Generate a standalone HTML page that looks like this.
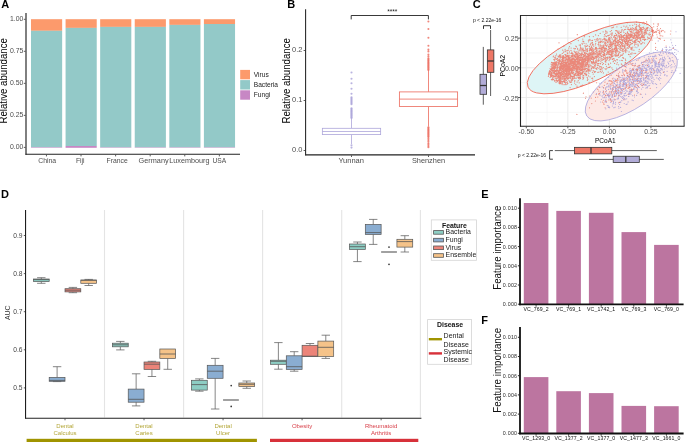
<!DOCTYPE html>
<html><head><meta charset="utf-8"><style>
html,body{margin:0;padding:0;background:#fff;}
body{width:685px;height:442px;overflow:hidden;}
svg{display:block;font-family:"Liberation Sans", sans-serif;will-change:transform;}
</style></head><body>
<svg width="685" height="442" viewBox="0 0 685 442">
<text x="1.3" y="8.2" font-size="11" fill="#000" text-anchor="start" font-weight="bold">A</text>
<text x="287.3" y="8.2" font-size="11" fill="#000" text-anchor="start" font-weight="bold">B</text>
<text x="472.8" y="8.2" font-size="11" fill="#000" text-anchor="start" font-weight="bold">C</text>
<text x="1.0" y="198.2" font-size="11" fill="#000" text-anchor="start" font-weight="bold">D</text>
<text x="481.3" y="197.8" font-size="11" fill="#000" text-anchor="start" font-weight="bold">E</text>
<text x="481.3" y="323.9" font-size="11" fill="#000" text-anchor="start" font-weight="bold">F</text>
<rect x="31.00" y="19.20" width="31.15" height="11.60" fill="#fc9a6c"/>
<rect x="31.00" y="30.80" width="31.15" height="116.50" fill="#93c9c8"/>
<rect x="31.00" y="147.30" width="31.15" height="0.50" fill="#c787c4"/>
<rect x="65.58" y="19.20" width="31.15" height="8.70" fill="#fc9a6c"/>
<rect x="65.58" y="27.90" width="31.15" height="118.10" fill="#93c9c8"/>
<rect x="65.58" y="146.00" width="31.15" height="1.80" fill="#c787c4"/>
<rect x="100.16" y="19.20" width="31.15" height="7.70" fill="#fc9a6c"/>
<rect x="100.16" y="26.90" width="31.15" height="120.50" fill="#93c9c8"/>
<rect x="100.16" y="147.40" width="31.15" height="0.40" fill="#c787c4"/>
<rect x="134.74" y="19.20" width="31.15" height="7.70" fill="#fc9a6c"/>
<rect x="134.74" y="26.90" width="31.15" height="120.50" fill="#93c9c8"/>
<rect x="134.74" y="147.40" width="31.15" height="0.40" fill="#c787c4"/>
<rect x="169.32" y="19.20" width="31.15" height="5.70" fill="#fc9a6c"/>
<rect x="169.32" y="24.90" width="31.15" height="122.50" fill="#93c9c8"/>
<rect x="169.32" y="147.40" width="31.15" height="0.40" fill="#c787c4"/>
<rect x="203.90" y="19.20" width="31.15" height="4.80" fill="#fc9a6c"/>
<rect x="203.90" y="24.00" width="31.15" height="123.40" fill="#93c9c8"/>
<rect x="203.90" y="147.40" width="31.15" height="0.40" fill="#c787c4"/>
<line x1="26" y1="13" x2="26" y2="154.8" stroke="#222" stroke-width="1.15"/>
<line x1="25.45" y1="154.25" x2="240" y2="154.25" stroke="#222" stroke-width="1.15"/>
<line x1="23.8" y1="19.30000000000001" x2="25.5" y2="19.30000000000001" stroke="#333" stroke-width="0.8"/>
<text x="9.90" y="20.90" font-size="6.9" fill="#4d4d4d" textLength="13.41" lengthAdjust="spacingAndGlyphs">1.00</text>
<line x1="23.8" y1="51.32500000000002" x2="25.5" y2="51.32500000000002" stroke="#333" stroke-width="0.8"/>
<text x="9.90" y="52.93" font-size="6.9" fill="#4d4d4d" textLength="13.41" lengthAdjust="spacingAndGlyphs">0.75</text>
<line x1="23.8" y1="83.35000000000001" x2="25.5" y2="83.35000000000001" stroke="#333" stroke-width="0.8"/>
<text x="9.90" y="84.95" font-size="6.9" fill="#4d4d4d" textLength="13.41" lengthAdjust="spacingAndGlyphs">0.50</text>
<line x1="23.8" y1="115.375" x2="25.5" y2="115.375" stroke="#333" stroke-width="0.8"/>
<text x="9.90" y="116.97" font-size="6.9" fill="#4d4d4d" textLength="13.41" lengthAdjust="spacingAndGlyphs">0.25</text>
<line x1="23.8" y1="147.4" x2="25.5" y2="147.4" stroke="#333" stroke-width="0.8"/>
<text x="9.90" y="149.00" font-size="6.9" fill="#4d4d4d" textLength="13.41" lengthAdjust="spacingAndGlyphs">0.00</text>
<line x1="46.45" y1="154.8" x2="46.45" y2="156.4" stroke="#333" stroke-width="0.8"/>
<text x="38.20" y="162.50" font-size="7.0" fill="#4d4d4d" textLength="17.99" lengthAdjust="spacingAndGlyphs">China</text>
<line x1="81.03" y1="154.8" x2="81.03" y2="156.4" stroke="#333" stroke-width="0.8"/>
<text x="75.90" y="162.50" font-size="7.0" fill="#4d4d4d" textLength="8.72" lengthAdjust="spacingAndGlyphs">Fiji</text>
<line x1="115.61" y1="154.8" x2="115.61" y2="156.4" stroke="#333" stroke-width="0.8"/>
<text x="106.50" y="162.50" font-size="7.0" fill="#4d4d4d" textLength="21.22" lengthAdjust="spacingAndGlyphs">France</text>
<line x1="150.19" y1="154.8" x2="150.19" y2="156.4" stroke="#333" stroke-width="0.8"/>
<text x="138.60" y="162.50" font-size="7.0" fill="#4d4d4d" textLength="30.02" lengthAdjust="spacingAndGlyphs">Germany</text>
<line x1="184.76999999999998" y1="154.8" x2="184.76999999999998" y2="156.4" stroke="#333" stroke-width="0.8"/>
<text x="169.30" y="162.50" font-size="7.0" fill="#4d4d4d" textLength="40.19" lengthAdjust="spacingAndGlyphs">Luxembourg</text>
<line x1="219.34999999999997" y1="154.8" x2="219.34999999999997" y2="156.4" stroke="#333" stroke-width="0.8"/>
<text x="212.40" y="162.50" font-size="7.0" fill="#4d4d4d" textLength="13.77" lengthAdjust="spacingAndGlyphs">USA</text>
<text x="7.00" y="123.60" font-size="10.0" fill="#000" textLength="85.50" lengthAdjust="spacingAndGlyphs" transform="rotate(-90 7.00 123.60)">Relative abundance</text>
<rect x="240.20" y="69.90" width="9.80" height="9.40" fill="#fc9a6c"/>
<text x="253.8" y="76.7" font-size="6.6" fill="#222" text-anchor="start">Virus</text>
<rect x="240.20" y="80.10" width="9.80" height="9.40" fill="#93c9c8"/>
<text x="253.8" y="86.9" font-size="6.6" fill="#222" text-anchor="start">Bacteria</text>
<rect x="240.20" y="90.30" width="9.80" height="9.40" fill="#c787c4"/>
<text x="253.8" y="97.10000000000001" font-size="6.6" fill="#222" text-anchor="start">Fungi</text>
<line x1="305.6" y1="9.2" x2="305.6" y2="155.4" stroke="#222" stroke-width="1.05"/>
<line x1="305.45" y1="154.9" x2="475" y2="154.9" stroke="#222" stroke-width="1.15"/>
<line x1="303.6" y1="50.5" x2="305.2" y2="50.5" stroke="#333" stroke-width="0.8"/>
<text x="292.00" y="51.70" font-size="7.8" fill="#4d4d4d" textLength="10.40" lengthAdjust="spacingAndGlyphs">0.2</text>
<line x1="303.6" y1="100.5" x2="305.2" y2="100.5" stroke="#333" stroke-width="0.8"/>
<text x="292.00" y="101.70" font-size="7.8" fill="#4d4d4d" textLength="10.40" lengthAdjust="spacingAndGlyphs">0.1</text>
<line x1="303.6" y1="150.5" x2="305.2" y2="150.5" stroke="#333" stroke-width="0.8"/>
<text x="292.00" y="151.70" font-size="7.8" fill="#4d4d4d" textLength="10.40" lengthAdjust="spacingAndGlyphs">0.0</text>
<text x="290.00" y="123.60" font-size="10.0" fill="#000" textLength="85.50" lengthAdjust="spacingAndGlyphs" transform="rotate(-90 290.00 123.60)">Relative abundance</text>
<line x1="351.5" y1="155.4" x2="351.5" y2="157.0" stroke="#333" stroke-width="0.8"/>
<text x="338.40" y="162.90" font-size="7.5" fill="#4d4d4d" textLength="25.58" lengthAdjust="spacingAndGlyphs">Yunnan</text>
<line x1="428.5" y1="155.4" x2="428.5" y2="157.0" stroke="#333" stroke-width="0.8"/>
<text x="411.90" y="162.90" font-size="7.5" fill="#4d4d4d" textLength="33.19" lengthAdjust="spacingAndGlyphs">Shenzhen</text>
<path d="M351.2 19.4V15.5H428.4V19.4" fill="none" stroke="#222" stroke-width="0.9"/>
<text x="392.3" y="13.6" font-size="6.6" fill="#222" text-anchor="middle">****</text>
<line x1="351.5" y1="118.4" x2="351.5" y2="128.3" stroke="#ada6da" stroke-width="0.8"/>
<line x1="351.5" y1="134.6" x2="351.5" y2="144.0" stroke="#ada6da" stroke-width="0.8"/>
<rect x="322.35" y="128.30" width="58.30" height="6.30" fill="white" stroke="#ada6da" stroke-width="0.8"/>
<line x1="322.35" y1="131.5" x2="380.65" y2="131.5" stroke="#ada6da" stroke-width="0.8"/>
<line x1="428.5" y1="70.2" x2="428.5" y2="91.9" stroke="#ed7265" stroke-width="0.85"/>
<line x1="428.5" y1="106.5" x2="428.5" y2="126.6" stroke="#ed7265" stroke-width="0.85"/>
<rect x="399.40" y="91.90" width="58.20" height="14.60" fill="white" stroke="#ed7265" stroke-width="0.85"/>
<line x1="399.4" y1="99.1" x2="457.6" y2="99.1" stroke="#ed7265" stroke-width="0.85"/>
<circle cx="351.5" cy="72.50" r="1.05" fill="#ada6da" fill-opacity="0.85"/>
<circle cx="351.5" cy="78.80" r="1.05" fill="#ada6da" fill-opacity="0.85"/>
<circle cx="351.5" cy="83.30" r="1.05" fill="#ada6da" fill-opacity="0.85"/>
<circle cx="351.5" cy="88.80" r="1.05" fill="#ada6da" fill-opacity="0.85"/>
<circle cx="351.5" cy="93.80" r="1.05" fill="#ada6da" fill-opacity="0.85"/>
<circle cx="351.5" cy="97.20" r="1.05" fill="#ada6da" fill-opacity="0.85"/>
<circle cx="351.5" cy="98.20" r="1.05" fill="#ada6da" fill-opacity="0.85"/>
<circle cx="351.5" cy="99.20" r="1.05" fill="#ada6da" fill-opacity="0.85"/>
<circle cx="351.5" cy="100.20" r="1.05" fill="#ada6da" fill-opacity="0.85"/>
<circle cx="351.5" cy="101.20" r="1.05" fill="#ada6da" fill-opacity="0.85"/>
<circle cx="351.5" cy="102.20" r="1.05" fill="#ada6da" fill-opacity="0.85"/>
<circle cx="351.5" cy="103.20" r="1.05" fill="#ada6da" fill-opacity="0.85"/>
<circle cx="351.5" cy="104.20" r="1.05" fill="#ada6da" fill-opacity="0.85"/>
<circle cx="351.5" cy="108.20" r="1.05" fill="#ada6da" fill-opacity="0.85"/>
<circle cx="351.5" cy="109.10" r="1.05" fill="#ada6da" fill-opacity="0.85"/>
<circle cx="351.5" cy="110.00" r="1.05" fill="#ada6da" fill-opacity="0.85"/>
<circle cx="351.5" cy="110.90" r="1.05" fill="#ada6da" fill-opacity="0.85"/>
<circle cx="351.5" cy="111.80" r="1.05" fill="#ada6da" fill-opacity="0.85"/>
<circle cx="351.5" cy="112.70" r="1.05" fill="#ada6da" fill-opacity="0.85"/>
<circle cx="351.5" cy="113.60" r="1.05" fill="#ada6da" fill-opacity="0.85"/>
<circle cx="351.5" cy="114.50" r="1.05" fill="#ada6da" fill-opacity="0.85"/>
<circle cx="351.5" cy="115.40" r="1.05" fill="#ada6da" fill-opacity="0.85"/>
<circle cx="351.5" cy="116.30" r="1.05" fill="#ada6da" fill-opacity="0.85"/>
<circle cx="351.5" cy="117.20" r="1.05" fill="#ada6da" fill-opacity="0.85"/>
<circle cx="351.5" cy="118.10" r="1.05" fill="#ada6da" fill-opacity="0.85"/>
<circle cx="351.5" cy="145.20" r="1.05" fill="#ada6da" fill-opacity="0.85"/>
<circle cx="351.5" cy="147.60" r="1.05" fill="#ada6da" fill-opacity="0.85"/>
<circle cx="428.4" cy="21.50" r="1.05" fill="#ed7265" fill-opacity="0.85"/>
<circle cx="428.4" cy="29.00" r="1.05" fill="#ed7265" fill-opacity="0.85"/>
<circle cx="428.4" cy="37.70" r="1.05" fill="#ed7265" fill-opacity="0.85"/>
<circle cx="428.4" cy="45.80" r="1.05" fill="#ed7265" fill-opacity="0.85"/>
<circle cx="428.4" cy="49.60" r="1.05" fill="#ed7265" fill-opacity="0.85"/>
<circle cx="428.4" cy="51.40" r="1.05" fill="#ed7265" fill-opacity="0.85"/>
<circle cx="428.4" cy="54.60" r="1.05" fill="#ed7265" fill-opacity="0.85"/>
<circle cx="428.4" cy="56.40" r="1.05" fill="#ed7265" fill-opacity="0.85"/>
<circle cx="428.4" cy="58.40" r="1.05" fill="#ed7265" fill-opacity="0.85"/>
<circle cx="428.4" cy="59.30" r="1.05" fill="#ed7265" fill-opacity="0.85"/>
<circle cx="428.4" cy="60.20" r="1.05" fill="#ed7265" fill-opacity="0.85"/>
<circle cx="428.4" cy="61.10" r="1.05" fill="#ed7265" fill-opacity="0.85"/>
<circle cx="428.4" cy="62.00" r="1.05" fill="#ed7265" fill-opacity="0.85"/>
<circle cx="428.4" cy="62.90" r="1.05" fill="#ed7265" fill-opacity="0.85"/>
<circle cx="428.4" cy="63.80" r="1.05" fill="#ed7265" fill-opacity="0.85"/>
<circle cx="428.4" cy="64.70" r="1.05" fill="#ed7265" fill-opacity="0.85"/>
<circle cx="428.4" cy="65.60" r="1.05" fill="#ed7265" fill-opacity="0.85"/>
<circle cx="428.4" cy="66.50" r="1.05" fill="#ed7265" fill-opacity="0.85"/>
<circle cx="428.4" cy="67.40" r="1.05" fill="#ed7265" fill-opacity="0.85"/>
<circle cx="428.4" cy="68.30" r="1.05" fill="#ed7265" fill-opacity="0.85"/>
<circle cx="428.4" cy="69.20" r="1.05" fill="#ed7265" fill-opacity="0.85"/>
<circle cx="428.4" cy="70.10" r="1.05" fill="#ed7265" fill-opacity="0.85"/>
<circle cx="428.4" cy="127.20" r="1.05" fill="#ed7265" fill-opacity="0.85"/>
<circle cx="428.4" cy="128.10" r="1.05" fill="#ed7265" fill-opacity="0.85"/>
<circle cx="428.4" cy="129.00" r="1.05" fill="#ed7265" fill-opacity="0.85"/>
<circle cx="428.4" cy="129.90" r="1.05" fill="#ed7265" fill-opacity="0.85"/>
<circle cx="428.4" cy="130.80" r="1.05" fill="#ed7265" fill-opacity="0.85"/>
<circle cx="428.4" cy="131.70" r="1.05" fill="#ed7265" fill-opacity="0.85"/>
<circle cx="428.4" cy="132.60" r="1.05" fill="#ed7265" fill-opacity="0.85"/>
<circle cx="428.4" cy="133.50" r="1.05" fill="#ed7265" fill-opacity="0.85"/>
<circle cx="428.4" cy="134.40" r="1.05" fill="#ed7265" fill-opacity="0.85"/>
<circle cx="428.4" cy="135.30" r="1.05" fill="#ed7265" fill-opacity="0.85"/>
<circle cx="428.4" cy="136.20" r="1.05" fill="#ed7265" fill-opacity="0.85"/>
<circle cx="428.4" cy="137.10" r="1.05" fill="#ed7265" fill-opacity="0.85"/>
<circle cx="428.4" cy="138.60" r="1.05" fill="#ed7265" fill-opacity="0.85"/>
<circle cx="428.4" cy="140.10" r="1.05" fill="#ed7265" fill-opacity="0.85"/>
<circle cx="428.4" cy="141.60" r="1.05" fill="#ed7265" fill-opacity="0.85"/>
<circle cx="428.4" cy="143.20" r="1.05" fill="#ed7265" fill-opacity="0.85"/>
<circle cx="428.4" cy="144.60" r="1.05" fill="#ed7265" fill-opacity="0.85"/>
<circle cx="428.4" cy="146.00" r="1.05" fill="#ed7265" fill-opacity="0.85"/>
<circle cx="428.4" cy="147.20" r="1.05" fill="#ed7265" fill-opacity="0.85"/>
<line x1="547.0749999999999" y1="15.5" x2="547.0749999999999" y2="126" stroke="#f2f2f2" stroke-width="0.55"/>
<line x1="588.625" y1="15.5" x2="588.625" y2="126" stroke="#f2f2f2" stroke-width="0.55"/>
<line x1="630.175" y1="15.5" x2="630.175" y2="126" stroke="#f2f2f2" stroke-width="0.55"/>
<line x1="671.725" y1="15.5" x2="671.725" y2="126" stroke="#f2f2f2" stroke-width="0.55"/>
<line x1="526.3" y1="15.5" x2="526.3" y2="126" stroke="#e8e8e8" stroke-width="0.9"/>
<line x1="567.85" y1="15.5" x2="567.85" y2="126" stroke="#e8e8e8" stroke-width="0.9"/>
<line x1="609.4" y1="15.5" x2="609.4" y2="126" stroke="#e8e8e8" stroke-width="0.9"/>
<line x1="650.9499999999999" y1="15.5" x2="650.9499999999999" y2="126" stroke="#e8e8e8" stroke-width="0.9"/>
<line x1="520.5" y1="23.25" x2="684" y2="23.25" stroke="#f2f2f2" stroke-width="0.55"/>
<line x1="520.5" y1="52.949999999999996" x2="684" y2="52.949999999999996" stroke="#f2f2f2" stroke-width="0.55"/>
<line x1="520.5" y1="82.64999999999999" x2="684" y2="82.64999999999999" stroke="#f2f2f2" stroke-width="0.55"/>
<line x1="520.5" y1="112.35" x2="684" y2="112.35" stroke="#f2f2f2" stroke-width="0.55"/>
<line x1="520.5" y1="38.099999999999994" x2="684" y2="38.099999999999994" stroke="#e8e8e8" stroke-width="0.9"/>
<line x1="520.5" y1="67.8" x2="684" y2="67.8" stroke="#e8e8e8" stroke-width="0.9"/>
<line x1="520.5" y1="97.5" x2="684" y2="97.5" stroke="#e8e8e8" stroke-width="0.9"/>
<ellipse cx="590.1" cy="57.9" rx="68.6" ry="23.1" transform="rotate(-25.2 590.1 57.9)" fill="#def5f6" stroke="none" stroke-width="0"/>
<ellipse cx="631.3" cy="86.3" rx="53.5" ry="21.5" transform="rotate(-33.7 631.3 86.3)" fill="#fde9e6" stroke="none" stroke-width="0"/>
<path d="M656.6 87.6h0M666.3 65.9h0M657.9 64.1h0M615.8 91.0h0M620.4 82.2h0M660.0 55.3h0M602.8 92.7h0M659.7 59.8h0M655.8 62.2h0M636.6 84.8h0M623.7 83.8h0M618.4 89.1h0M610.8 85.5h0M641.6 89.1h0M638.9 81.3h0M648.3 85.8h0M666.4 65.4h0M660.4 75.2h0M641.8 73.0h0M668.5 63.3h0M621.4 111.5h0M608.9 86.7h0M651.7 78.4h0M615.1 107.2h0M606.4 102.3h0M640.7 82.2h0M642.1 85.6h0M652.1 62.6h0M646.4 75.5h0M636.1 71.4h0M636.2 73.0h0M623.7 81.9h0M608.4 96.2h0M618.5 91.9h0M652.1 72.1h0M614.4 81.2h0M634.5 97.0h0M609.1 106.9h0M664.2 66.4h0M619.5 86.9h0M620.9 88.3h0M663.5 65.3h0M639.8 80.0h0M657.2 50.4h0M648.8 76.8h0M669.0 82.1h0M599.8 87.2h0M642.9 83.0h0M638.2 80.7h0M663.1 59.9h0M636.8 90.3h0M633.5 70.4h0M605.8 100.5h0M636.5 91.3h0M622.4 86.3h0M607.4 94.4h0M661.3 63.1h0M628.9 79.9h0M675.7 65.8h0M637.5 70.1h0M650.6 76.8h0M640.0 65.5h0M654.6 72.3h0M610.7 94.9h0M619.8 67.4h0M620.6 89.2h0M623.9 77.8h0M611.1 91.7h0M674.2 66.8h0M610.8 86.1h0M644.0 64.5h0M628.5 96.4h0M664.6 60.9h0M651.4 82.0h0M612.8 97.2h0M659.7 55.5h0M672.9 53.8h0M674.6 63.8h0M645.3 80.9h0M614.6 93.3h0M622.2 88.6h0M663.8 59.5h0M634.7 74.8h0M624.2 103.5h0M663.3 60.8h0M638.8 67.3h0M634.0 76.2h0M626.9 91.3h0M635.8 84.6h0M616.9 90.5h0M603.7 94.7h0M662.1 61.8h0M630.1 68.4h0M633.6 69.3h0M630.2 89.8h0M648.3 66.6h0M606.3 102.0h0M630.0 93.5h0M612.7 100.1h0M612.4 94.9h0M673.2 72.6h0M648.6 76.3h0M630.0 79.9h0M643.6 80.2h0M657.4 68.2h0M619.9 82.3h0M641.7 75.8h0M656.5 63.8h0M622.8 70.8h0M637.0 76.8h0M655.3 63.6h0M668.5 53.5h0M606.9 84.2h0M662.3 58.3h0M608.6 96.9h0M655.3 67.0h0M654.7 56.7h0M614.1 99.0h0M633.1 70.4h0M662.1 59.6h0M612.4 106.0h0M644.7 67.2h0M647.1 67.2h0M644.1 82.8h0M649.3 66.8h0M619.4 87.5h0M620.4 91.3h0M631.0 91.4h0M601.6 82.8h0M624.8 79.3h0M659.4 54.6h0M636.2 69.5h0M621.0 81.5h0M617.5 84.0h0M659.7 65.8h0M633.7 72.8h0M669.4 57.8h0M643.1 77.7h0M641.9 68.7h0M663.2 62.0h0M653.1 81.7h0M640.4 78.8h0M625.5 80.4h0M659.5 62.8h0M627.7 76.6h0M658.7 66.2h0M613.4 101.4h0M624.0 79.9h0M638.3 75.6h0M670.2 65.7h0M617.7 86.9h0M657.2 66.4h0M642.4 65.9h0M645.6 65.5h0M637.6 73.5h0M675.8 70.7h0M630.5 79.2h0M634.8 75.3h0M619.8 85.0h0M609.4 95.3h0M618.5 96.1h0M669.3 58.3h0M666.7 75.8h0M612.3 96.6h0M648.2 83.0h0M636.9 80.7h0M643.9 78.8h0M641.3 63.3h0M620.2 88.4h0M665.3 58.9h0M641.3 73.4h0M636.6 60.5h0M648.2 78.2h0M616.6 88.6h0M609.1 93.2h0M626.4 83.2h0M652.4 66.1h0M661.9 65.1h0M647.7 60.4h0M608.5 89.4h0M670.0 58.7h0M654.8 67.7h0M660.2 59.7h0M634.4 75.2h0M665.5 52.2h0M600.7 102.0h0M608.7 107.1h0M599.8 94.2h0M628.9 96.5h0M625.8 92.8h0M619.5 86.2h0M639.0 83.5h0M603.7 88.1h0M635.0 65.0h0M607.9 86.8h0M648.6 67.1h0M601.4 99.3h0M615.6 88.2h0M664.4 60.8h0M626.1 67.6h0M656.8 69.2h0M642.8 62.5h0M642.5 69.1h0M620.5 85.8h0M636.5 68.9h0M596.5 93.7h0M650.0 61.2h0M663.6 60.5h0M658.1 69.2h0M611.3 100.2h0M620.4 81.0h0M615.4 86.0h0M610.5 88.2h0M646.4 75.8h0M649.4 52.9h0M629.9 93.4h0M660.6 58.5h0M653.2 60.9h0M618.2 93.7h0M659.6 71.9h0M664.3 63.0h0M622.7 96.7h0M637.3 79.2h0M650.1 79.9h0M647.9 81.5h0M610.9 94.8h0M648.4 82.8h0M651.5 70.0h0M658.5 64.7h0M648.9 62.6h0M618.8 88.0h0M653.3 73.9h0M655.3 55.1h0M662.5 66.8h0M616.5 94.9h0M605.1 101.9h0M639.9 57.8h0M615.5 91.7h0M643.4 79.5h0M666.0 52.5h0M637.9 78.4h0M608.2 77.5h0M635.1 85.2h0M641.7 69.6h0M617.0 99.0h0M618.1 75.4h0M614.2 99.4h0M646.4 70.1h0M658.2 71.0h0M622.1 80.5h0M624.5 81.4h0M641.1 94.4h0M610.3 89.1h0M616.3 86.1h0M625.2 83.8h0M629.5 74.7h0M608.4 107.4h0M658.4 78.5h0M641.9 69.1h0M619.0 75.8h0M613.7 103.7h0M655.3 75.4h0M618.2 97.7h0M615.6 102.3h0M605.6 91.9h0M606.3 97.3h0M662.7 49.5h0M617.1 79.6h0M632.0 89.9h0M654.2 61.1h0M656.6 84.4h0M614.8 93.7h0M629.6 77.8h0M673.1 60.9h0M638.3 92.6h0M650.8 73.2h0M605.7 88.9h0M654.1 70.0h0M664.2 71.8h0M654.4 62.5h0M639.4 70.2h0M631.5 90.5h0M609.2 98.0h0M634.1 70.9h0M656.5 62.1h0M614.9 86.7h0M625.5 88.4h0M636.0 79.9h0M660.3 72.4h0M672.3 60.7h0M609.1 83.8h0M618.8 93.9h0M660.3 70.3h0M653.9 70.8h0M652.1 76.9h0M666.6 53.9h0M663.2 52.8h0M665.2 67.3h0M649.2 61.2h0M622.7 69.7h0M649.1 78.9h0M614.0 87.6h0M652.1 65.7h0M644.3 61.6h0M646.0 61.1h0M631.7 72.1h0M624.3 83.7h0M632.3 84.6h0M599.9 83.7h0M658.6 70.2h0M635.6 69.3h0M621.9 79.4h0M646.4 77.7h0M658.6 63.2h0M629.9 70.1h0M664.7 75.3h0M663.2 53.6h0M630.9 84.4h0M614.5 95.0h0M664.4 71.9h0M662.7 57.3h0M621.4 97.2h0M647.6 65.0h0M667.0 67.7h0M661.8 55.3h0M608.8 94.1h0M618.6 106.5h0M672.2 57.5h0M612.5 95.5h0M626.2 104.4h0M641.4 78.4h0M623.1 80.7h0M658.9 69.8h0M614.5 83.4h0M668.6 66.7h0M623.4 97.5h0M655.5 61.1h0M604.8 94.5h0M633.5 82.1h0M605.9 99.1h0M624.9 78.1h0M622.3 92.9h0M647.1 54.3h0M630.1 79.2h0M602.9 97.7h0M672.1 52.6h0M662.9 63.6h0M654.8 56.1h0M621.5 93.6h0M632.4 79.9h0M620.6 83.8h0M605.8 87.6h0M603.3 90.8h0M640.8 78.8h0M606.5 90.5h0M617.3 92.0h0M664.3 69.0h0M638.1 86.3h0M620.7 102.3h0M646.9 69.2h0M617.5 82.1h0M640.7 84.4h0M622.5 90.5h0M646.0 81.8h0M645.9 72.4h0M646.8 81.8h0M637.4 85.2h0M660.5 68.7h0M670.6 60.1h0M614.8 96.4h0M616.8 93.7h0M611.6 97.2h0M678.0 59.3h0M669.2 52.5h0M619.6 104.5h0M663.7 59.6h0M623.9 95.3h0M639.5 75.8h0M638.2 75.4h0M671.4 72.4h0M607.3 95.5h0M622.1 77.5h0M640.3 70.1h0M610.9 93.0h0M620.6 107.4h0M637.5 79.7h0M661.7 69.7h0M653.1 59.1h0M658.8 66.7h0M653.4 73.0h0M658.6 79.1h0M653.8 61.2h0M647.9 76.1h0M648.1 73.4h0M619.9 81.1h0M616.9 91.6h0M655.9 63.5h0M605.7 79.6h0M669.9 61.4h0M645.3 77.3h0M623.8 83.4h0M661.9 50.4h0M623.7 99.6h0M637.7 80.1h0M613.5 102.5h0M672.0 66.8h0M640.0 71.9h0M656.7 72.0h0M625.2 84.1h0M654.9 65.9h0M651.2 68.1h0M643.4 74.0h0M671.6 64.6h0M634.3 81.1h0M629.3 82.1h0M655.0 64.0h0M661.1 65.1h0M628.6 76.4h0M649.1 66.0h0M615.6 92.2h0M636.7 73.7h0M655.3 65.1h0M606.5 93.5h0M659.6 80.1h0M609.6 107.7h0M662.3 65.2h0M633.9 79.9h0M632.1 100.0h0M653.6 69.9h0M635.6 78.5h0M650.6 71.8h0M610.4 98.6h0M647.3 83.3h0M635.8 78.9h0M667.2 75.8h0M600.0 95.5h0M629.7 89.0h0M638.2 69.0h0M652.5 83.2h0M604.4 97.2h0M644.8 72.6h0M617.8 98.8h0M623.0 98.2h0M656.0 56.2h0M615.7 89.6h0M630.4 71.0h0M659.5 64.5h0M650.6 68.4h0M639.4 73.8h0M650.9 63.3h0M635.1 76.3h0M640.9 69.4h0M662.4 65.8h0M654.1 79.6h0M644.3 57.1h0M623.7 86.2h0M638.0 74.1h0M634.9 83.8h0M647.8 63.1h0M625.9 84.5h0M629.8 74.4h0M651.5 74.5h0M637.9 78.6h0M633.8 79.0h0M663.3 63.9h0M624.5 84.6h0M650.3 56.4h0M656.3 70.4h0M637.9 80.1h0M647.3 70.1h0M608.2 105.8h0M637.4 88.3h0M658.9 54.5h0M637.7 71.2h0M642.9 87.4h0M647.9 83.0h0M643.2 68.0h0M630.3 72.9h0M631.7 76.5h0M612.3 90.6h0M618.8 77.1h0M629.7 83.4h0M631.3 71.3h0M660.7 52.3h0M633.7 88.2h0M634.6 74.1h0M625.8 85.2h0M641.4 80.6h0M668.7 64.0h0M655.5 63.1h0M633.9 80.7h0M610.5 89.0h0M664.9 74.4h0M638.1 83.0h0M643.8 64.4h0M609.7 96.5h0M664.3 66.1h0M625.9 89.8h0M647.4 86.8h0M615.5 104.2h0M629.6 78.7h0M655.4 65.3h0M653.6 56.5h0M636.8 80.5h0M651.8 69.7h0M642.5 97.4h0M631.6 82.7h0M632.9 63.4h0M612.6 88.9h0M632.2 82.5h0M653.1 57.0h0M646.2 64.9h0M607.7 94.8h0M661.6 64.7h0M659.4 62.0h0M630.6 75.1h0M610.8 102.4h0M644.8 68.5h0M617.7 86.9h0M639.0 65.4h0M628.3 77.5h0M647.0 77.1h0M613.4 80.4h0M631.0 81.7h0M641.1 81.6h0M640.9 72.5h0M617.9 93.0h0M666.0 49.6h0M629.5 94.3h0M630.2 92.1h0M623.1 89.5h0M602.2 86.8h0M627.4 75.9h0M657.3 73.0h0M659.6 77.6h0M614.6 95.7h0M622.6 98.4h0M623.0 82.5h0M651.0 67.3h0M634.4 80.0h0M663.7 64.0h0M641.6 62.4h0M646.0 80.2h0M663.2 72.0h0M646.0 62.6h0M613.9 82.3h0M620.0 92.6h0M623.6 81.7h0M626.8 65.1h0M620.3 96.3h0M635.8 80.4h0M639.6 72.5h0M618.9 108.2h0M619.8 90.9h0M613.8 87.4h0M623.2 88.4h0M666.3 50.0h0M611.3 89.0h0M622.1 91.5h0M613.4 89.4h0M634.6 76.1h0M613.9 107.7h0M635.4 86.6h0M614.6 100.0h0M624.1 91.3h0M654.6 70.7h0M621.8 100.7h0M644.7 73.0h0M645.8 88.1h0M625.0 78.3h0M656.0 63.5h0M608.9 85.4h0M664.5 57.1h0M667.9 62.1h0M651.8 80.7h0M602.3 95.9h0M642.0 75.0h0M638.9 74.0h0M653.4 61.1h0M613.8 83.8h0M663.1 61.4h0M653.9 52.4h0M612.4 95.7h0M626.6 85.4h0M602.0 96.1h0M653.6 58.7h0M652.4 56.4h0M672.1 70.7h0M644.3 62.1h0M646.4 85.1h0M649.6 74.9h0M640.7 72.8h0M660.5 52.9h0M645.2 81.6h0M632.7 95.7h0M634.0 72.4h0M604.2 97.7h0M649.2 79.0h0M650.2 72.3h0M636.6 95.4h0M627.0 80.2h0M641.0 80.2h0M639.2 66.3h0M655.3 83.7h0M627.0 78.8h0M639.0 58.4h0M650.2 68.4h0M649.7 68.7h0M660.8 78.5h0M632.9 78.2h0M633.8 80.3h0M648.6 75.5h0M625.1 99.6h0M638.4 76.8h0M633.4 89.4h0M633.4 85.0h0M613.1 91.7h0M625.2 86.8h0M635.9 79.3h0M643.5 66.2h0M653.1 77.8h0M629.6 71.5h0M638.2 87.3h0M629.4 91.4h0M640.7 75.1h0M630.0 76.6h0M642.7 72.6h0M659.7 67.1h0M638.5 83.5h0M618.4 93.1h0M629.1 91.9h0M615.7 87.8h0M622.0 90.3h0M646.2 59.0h0M641.8 81.5h0M617.6 92.5h0M642.6 71.1h0M656.3 75.2h0M634.2 86.0h0M616.6 68.2h0M632.0 82.0h0M633.9 68.1h0M648.1 79.8h0M660.4 83.6h0M649.1 65.8h0M651.1 69.5h0M652.0 66.2h0M645.6 75.5h0M619.4 95.4h0M639.4 87.5h0M636.1 70.6h0M637.3 91.3h0M643.8 65.9h0M632.6 83.6h0M629.0 93.4h0M656.8 71.1h0M640.7 67.9h0M636.0 73.0h0M645.8 68.5h0M649.1 69.8h0M644.7 82.8h0M600.3 91.9h0M629.4 87.3h0M632.7 86.3h0M625.9 90.4h0M640.3 80.0h0M656.8 77.9h0M631.9 85.8h0M625.2 93.4h0M663.5 65.4h0M637.3 93.1h0M613.2 78.1h0M644.0 84.4h0M640.3 73.9h0M626.1 83.2h0M642.1 66.7h0M622.7 72.1h0M623.0 84.4h0M635.6 73.5h0M647.6 75.4h0M622.4 75.7h0M645.7 84.5h0M635.9 81.3h0M670.3 54.0h0M624.4 80.7h0M650.2 62.8h0M631.0 72.8h0M632.3 76.8h0M645.0 73.0h0M646.5 70.5h0M646.3 60.2h0M639.1 74.7h0M625.1 78.7h0M629.9 84.4h0M649.6 85.6h0M645.7 77.8h0M652.2 65.5h0M634.9 66.0h0M643.7 61.9h0M648.4 56.5h0M640.9 81.8h0M614.5 86.9h0M621.5 89.1h0M615.7 87.3h0M656.2 66.2h0M630.9 94.2h0M648.7 64.7h0M642.0 72.1h0M654.3 60.0h0M651.9 75.7h0M630.8 73.8h0M629.1 74.0h0M631.7 70.2h0M632.7 69.3h0M631.2 86.1h0M645.6 94.2h0M652.2 59.8h0M618.5 98.7h0M640.2 78.3h0M620.4 80.1h0M637.3 75.8h0M645.6 70.6h0M632.6 75.4h0M653.2 83.8h0M608.8 81.1h0M651.3 72.0h0M629.8 85.9h0M641.5 70.4h0M638.9 78.3h0M607.2 105.6h0M627.2 86.1h0M640.4 79.5h0M658.1 70.1h0M631.7 64.7h0M645.0 85.4h0M627.2 104.0h0M657.7 72.8h0M662.5 69.8h0M630.9 70.5h0M632.8 80.1h0M612.7 87.7h0M644.8 68.2h0M673.5 62.1h0M641.8 68.3h0M651.3 67.7h0M635.4 63.3h0M623.1 86.2h0M653.0 68.3h0M617.9 85.1h0M630.6 76.5h0M646.8 87.6h0M642.3 64.6h0M637.1 69.4h0M637.7 71.0h0M631.2 92.3h0M628.1 101.9h0M638.1 80.4h0M624.4 80.7h0M618.0 87.3h0M624.4 95.7h0M626.4 77.7h0M618.5 102.8h0M624.7 98.4h0M615.9 93.0h0M640.8 81.2h0M644.0 79.9h0M667.1 71.3h0M613.2 85.3h0M632.1 91.5h0M645.9 69.2h0M630.3 76.3h0M632.3 82.3h0M656.5 63.5h0M628.0 76.0h0M615.4 79.3h0M615.9 84.4h0M645.8 84.6h0M647.4 87.8h0M621.4 94.2h0M628.3 94.1h0M640.7 71.5h0M642.9 73.7h0M629.1 85.9h0M639.6 67.5h0M639.3 68.4h0M614.1 94.4h0M630.9 79.7h0M637.1 69.3h0M630.4 86.0h0M608.3 95.2h0M636.4 87.3h0M645.4 72.7h0M654.6 64.0h0M609.2 97.9h0M668.0 56.2h0M619.4 84.4h0M646.4 68.6h0M654.3 73.0h0M650.8 74.5h0M642.9 85.2h0M614.9 78.8h0M642.3 71.4h0M625.5 82.5h0M605.2 100.9h0M669.6 52.8h0M642.9 70.1h0M661.7 68.4h0M625.3 87.6h0M649.8 59.9h0M661.0 73.5h0M659.3 71.8h0M633.5 75.8h0M624.2 93.8h0M630.9 76.1h0M612.9 103.8h0M613.9 91.8h0M634.0 73.5h0M622.2 85.0h0M631.0 75.9h0M635.4 81.0h0M660.8 63.9h0M652.3 68.4h0M633.3 76.1h0M636.9 47.6h0M626.6 86.0h0M624.4 70.7h0M648.3 72.8h0M624.9 95.9h0M633.6 82.9h0M618.0 87.7h0M636.8 76.9h0M655.9 64.6h0M624.5 82.0h0M636.6 73.7h0M621.2 81.0h0M626.3 95.4h0M620.5 89.1h0M657.9 72.4h0M664.5 57.8h0M642.3 75.3h0M626.4 83.9h0M646.6 75.8h0M635.1 86.5h0M646.9 73.7h0M637.0 72.6h0M636.5 72.1h0M650.0 83.6h0M627.7 82.1h0M629.8 80.6h0M620.2 101.8h0M634.7 89.0h0M620.3 93.9h0M632.7 77.8h0M633.2 100.6h0M638.8 80.4h0M643.8 78.4h0M617.6 89.8h0M620.4 77.5h0M619.1 79.0h0M646.9 75.1h0M658.8 67.0h0M645.7 70.5h0M627.1 75.0h0M648.7 58.4h0M615.8 89.6h0M649.1 58.0h0M631.3 89.6h0M605.8 108.8h0M680.1 73.4h0M659.1 70.9h0M620.8 84.1h0M634.7 72.5h0M619.9 60.6h0M635.0 74.6h0M616.8 90.3h0M631.3 90.3h0M644.2 78.6h0M641.1 80.5h0M651.8 70.2h0M639.6 82.1h0M671.0 67.8h0M622.9 78.7h0M637.5 74.1h0M606.7 86.8h0M626.7 98.8h0M657.6 75.4h0M627.2 91.2h0M638.0 67.6h0M635.9 80.5h0M622.1 86.3h0M632.0 82.3h0M628.9 82.1h0M632.0 86.0h0M643.9 70.4h0M647.5 78.5h0M629.7 85.2h0M623.6 84.8h0M639.1 75.9h0M633.1 77.2h0M652.0 75.1h0" stroke="#b2aadc" stroke-width="1.2" stroke-linecap="round" fill="none"/>
<path d="M669.5 47.0h0M673.7 48.0h0M670.9 50.1h0M658.2 40.9h0M675.6 45.5h0M665.1 47.5h0M678.2 51.3h0M672.6 45.2h0M662.5 48.8h0M667.0 49.2h0M669.8 49.6h0M666.5 47.4h0M666.4 50.5h0M670.8 39.8h0M669.9 47.2h0M675.3 49.6h0M675.2 56.8h0M674.7 49.6h0M669.1 50.7h0M674.7 52.5h0M676.8 50.1h0M676.3 54.3h0M672.6 53.2h0M666.7 50.0h0M672.9 48.1h0M673.4 47.3h0M671.3 49.4h0M668.9 50.4h0M671.6 42.7h0M676.0 31.8h0" stroke="#b2aadc" stroke-width="1.1" stroke-linecap="round" fill="none"/>
<path d="M614.8 91.8h0M591.8 103.6h0M628.9 87.5h0M628.0 88.3h0M595.6 97.4h0M637.2 78.8h0M631.2 63.7h0M634.5 95.1h0M654.9 71.7h0M652.2 60.8h0M599.6 87.3h0M641.5 73.3h0M622.7 65.5h0M626.9 72.6h0M641.4 76.7h0M612.5 89.9h0M612.1 85.0h0M614.4 96.5h0M607.3 83.3h0M623.2 84.7h0M598.5 94.1h0M603.5 87.6h0M634.6 78.7h0M618.3 76.4h0M637.5 89.7h0M591.2 98.1h0M619.4 102.5h0M610.2 80.9h0M626.6 85.3h0M609.3 80.6h0M632.7 63.7h0M623.3 83.5h0M626.6 85.9h0M618.4 73.8h0M639.7 81.8h0M612.8 81.9h0M641.8 70.9h0M632.4 79.4h0M628.4 84.0h0M616.7 70.2h0M638.5 86.5h0M641.9 74.7h0M636.7 69.2h0M625.2 71.5h0M630.3 62.1h0M619.7 72.1h0M645.6 72.1h0M621.7 80.0h0M586.0 96.7h0M642.5 64.5h0M631.7 90.5h0M603.6 92.1h0M618.0 80.3h0M615.2 99.6h0M658.7 62.6h0M631.6 76.9h0M596.2 94.6h0M625.7 66.4h0M612.4 78.8h0M651.8 58.7h0M606.0 91.6h0M589.5 107.8h0M626.9 84.6h0M619.0 86.9h0M617.9 87.6h0M585.5 98.2h0M621.3 63.9h0M647.8 61.0h0M589.4 96.0h0M639.3 65.4h0M613.4 86.1h0M655.5 49.3h0M625.8 70.3h0M620.1 83.2h0M641.5 70.9h0M629.1 72.2h0M616.2 91.2h0M633.8 73.0h0M611.2 80.9h0M595.4 101.0h0M663.5 72.2h0M615.2 81.3h0M618.8 95.6h0M634.6 86.9h0M605.1 107.7h0M598.7 91.0h0M624.0 99.7h0M615.8 88.1h0M623.6 79.5h0M640.3 68.6h0M618.5 90.6h0M631.5 77.0h0M632.3 74.4h0M611.7 101.3h0M624.1 74.9h0M604.3 85.3h0M643.7 75.6h0M633.7 81.5h0M628.3 88.5h0M597.9 89.3h0M629.9 87.4h0M613.4 93.0h0M642.0 85.4h0M616.5 75.3h0M611.6 91.8h0M637.0 70.4h0M628.3 64.3h0M611.2 83.7h0M646.6 76.6h0M616.9 82.1h0M615.6 80.6h0M629.1 86.0h0M615.8 96.0h0M620.7 92.7h0M617.7 78.6h0M647.5 65.4h0M651.5 72.5h0M616.7 80.5h0M645.9 60.2h0M626.3 87.5h0M636.1 87.6h0M632.7 65.4h0M617.3 62.6h0M655.7 47.4h0M623.2 73.0h0M604.0 93.6h0M646.7 71.9h0M616.4 85.3h0M615.8 80.7h0M576.9 114.4h0M635.4 65.3h0M636.3 72.9h0M633.5 69.4h0M650.2 88.3h0M653.7 69.1h0M619.3 77.1h0M634.2 65.8h0M610.0 87.0h0M611.1 75.3h0M637.2 66.2h0M626.6 73.1h0M606.1 101.4h0M627.5 75.4h0M617.4 78.9h0M605.0 82.1h0M625.5 69.9h0M616.9 85.7h0M597.8 97.1h0M610.7 100.7h0M648.9 59.3h0M604.0 104.4h0M628.1 81.1h0M633.2 75.4h0M625.3 62.6h0M598.8 86.7h0M621.5 89.9h0M631.6 89.1h0M637.0 74.7h0M616.5 93.4h0M603.4 91.6h0M637.8 69.0h0M638.2 66.1h0M633.4 84.0h0M615.3 90.4h0M629.0 76.1h0M623.9 78.7h0M639.1 76.5h0M605.1 97.0h0M621.9 75.4h0M628.2 94.2h0M607.1 95.2h0M627.0 79.7h0M630.2 90.7h0M621.3 92.6h0M629.4 77.1h0M603.3 100.2h0M618.2 75.8h0M627.7 73.3h0M618.6 64.8h0M645.6 78.1h0M596.6 82.7h0M602.5 102.0h0M623.9 74.2h0M626.7 71.0h0M656.2 58.3h0M634.4 77.0h0M612.3 94.9h0M643.6 84.4h0M611.7 93.0h0M603.7 103.0h0M662.3 50.6h0M631.7 82.9h0M635.5 75.3h0M630.5 73.0h0M651.8 62.2h0M627.8 78.5h0M643.6 70.2h0M609.0 95.2h0M599.4 93.4h0M643.0 62.2h0M650.0 71.0h0M624.5 65.9h0M624.5 75.6h0M632.6 89.8h0M601.4 72.2h0M645.0 61.3h0M636.8 79.2h0M624.7 66.2h0M640.3 94.1h0M629.3 54.7h0M637.5 85.5h0M641.8 83.7h0M608.9 99.9h0M630.7 75.1h0M659.6 61.0h0M611.6 81.7h0M624.9 88.3h0M633.0 65.5h0M637.5 70.1h0M637.5 81.5h0M593.3 92.0h0M629.9 74.3h0M605.5 95.4h0M604.9 82.2h0M637.0 83.4h0M620.3 87.1h0M630.0 63.9h0M673.1 48.4h0M632.6 68.8h0M632.2 70.1h0M609.7 91.8h0M610.4 84.2h0M610.7 99.1h0M612.2 83.1h0M610.4 99.5h0M612.9 88.5h0M623.8 89.4h0M605.5 89.0h0M599.0 93.7h0M597.2 89.0h0" stroke="#ea887a" stroke-width="1.15" stroke-linecap="round" fill="none"/>
<path d="M574.6 63.8h0M582.3 69.2h0M600.4 71.5h0M587.0 68.3h0M566.4 56.2h0M565.3 68.0h0M571.3 62.5h0M566.6 65.2h0M581.3 50.9h0M577.9 59.5h0M554.7 64.6h0M561.1 73.6h0M584.3 60.1h0M567.1 56.0h0M559.8 56.9h0M580.4 57.5h0M565.6 74.0h0M566.4 72.4h0M562.4 69.5h0M576.6 59.2h0M551.4 69.0h0M560.3 68.2h0M555.3 63.1h0M575.2 60.4h0M565.1 63.2h0M577.0 86.0h0M566.4 66.5h0M550.5 75.2h0M571.3 64.9h0M573.0 66.7h0M566.5 64.7h0M592.0 56.0h0M577.6 71.5h0M577.7 69.8h0M570.7 68.7h0M570.1 77.6h0M580.1 63.6h0M577.8 54.5h0M578.2 56.8h0M573.9 64.1h0M580.6 64.8h0M577.0 72.2h0M551.5 70.3h0M551.6 68.3h0M592.0 62.6h0M574.8 74.1h0M549.8 71.9h0M573.2 67.8h0M568.2 78.9h0M575.5 75.0h0M569.6 72.1h0M565.5 69.6h0M569.9 62.6h0M571.1 55.5h0M564.2 68.3h0M561.9 79.5h0M566.3 80.4h0M566.7 68.3h0M568.8 77.0h0M563.5 72.5h0M595.7 64.6h0M556.0 74.0h0M570.2 63.6h0M576.8 67.8h0M569.0 55.2h0M580.5 63.5h0M555.7 65.2h0M556.9 78.4h0M557.1 62.7h0M560.8 55.3h0M573.9 58.1h0M580.2 74.2h0M565.0 61.6h0M579.0 62.2h0M569.8 68.6h0M575.5 55.9h0M550.1 77.3h0M578.6 66.2h0M558.8 57.0h0M558.0 49.0h0M561.7 68.8h0M562.0 68.3h0M586.8 64.7h0M577.6 60.8h0M594.2 52.8h0M569.8 70.4h0M572.8 78.0h0M573.9 57.7h0M591.6 61.6h0M553.3 72.3h0M568.0 64.6h0M568.5 74.1h0M572.1 58.9h0M566.5 59.2h0M578.0 68.3h0M563.0 69.6h0M567.8 65.3h0M559.7 70.2h0M561.8 74.5h0M565.2 65.7h0M568.9 73.5h0M555.6 76.8h0M591.3 68.9h0M570.6 76.9h0M554.6 81.0h0M580.4 59.9h0M559.6 72.4h0M572.1 60.5h0M577.1 87.1h0M570.3 64.5h0M571.9 70.3h0M565.7 80.0h0M564.1 57.8h0M589.3 50.5h0M565.6 60.2h0M569.1 56.3h0M554.0 69.7h0M595.8 60.5h0M563.8 69.7h0M592.6 56.1h0M569.0 53.0h0M571.2 71.8h0M575.0 67.7h0M572.0 56.5h0M582.6 62.3h0M572.6 63.7h0M568.1 63.1h0M566.9 59.7h0M581.8 55.3h0M574.6 56.4h0M557.8 76.2h0M561.8 73.5h0M573.0 67.8h0M560.2 69.6h0M562.3 66.7h0M559.0 56.1h0M576.9 73.3h0M580.9 64.4h0M568.4 67.9h0M590.8 52.5h0M566.5 66.4h0M601.8 41.6h0M575.4 52.4h0M573.6 63.9h0M556.8 58.8h0M569.9 76.0h0M559.0 42.8h0M585.7 46.1h0M552.7 77.0h0M591.2 58.4h0M565.5 69.6h0M578.0 66.4h0M572.5 72.7h0M569.8 81.7h0M576.2 63.9h0M571.9 72.9h0M578.8 61.3h0M572.3 55.2h0M579.6 73.8h0M587.5 78.0h0M582.8 65.1h0M563.6 58.7h0M551.8 74.2h0M551.9 75.4h0M584.6 61.4h0M580.0 71.0h0M572.4 73.5h0M572.9 76.7h0M566.8 63.9h0M562.3 65.5h0M564.5 81.1h0M592.7 53.7h0M566.3 56.8h0M556.7 61.7h0M553.0 75.1h0M562.5 77.8h0M581.4 73.8h0M576.5 62.1h0M564.0 65.5h0M574.0 78.4h0M563.0 66.0h0M559.8 83.7h0M584.2 61.9h0M573.2 67.1h0M596.5 52.2h0M560.2 73.7h0M565.0 65.1h0M576.3 58.0h0M564.8 67.9h0M549.7 70.7h0M557.9 74.9h0M569.6 67.5h0M571.3 63.8h0M566.3 66.7h0M579.2 60.4h0M585.4 74.0h0M571.9 65.7h0M566.5 63.3h0M564.2 66.9h0M576.7 69.0h0M578.3 61.0h0M568.3 66.1h0M572.6 63.3h0M564.8 70.4h0M552.8 78.0h0M557.8 76.1h0M571.8 52.0h0M569.9 57.7h0M578.3 40.6h0M571.3 72.7h0M581.9 70.3h0M587.9 69.1h0M580.3 63.0h0M564.7 78.8h0M565.8 68.3h0M569.2 66.0h0M551.5 62.4h0M571.1 59.5h0M578.2 57.8h0M565.4 76.5h0M596.7 68.0h0M563.2 65.9h0M566.9 71.2h0M566.2 70.7h0M557.3 66.1h0M567.4 53.4h0M565.9 62.2h0M583.0 48.4h0M574.2 62.0h0M574.0 63.5h0M564.9 67.5h0M550.9 74.2h0M568.6 71.3h0M555.1 65.8h0M582.2 68.3h0M562.3 56.2h0M587.9 58.7h0M578.0 66.1h0M575.4 57.4h0M565.6 55.3h0M572.6 70.7h0M573.6 59.2h0M581.5 67.7h0M562.2 76.7h0M573.9 64.7h0M598.9 53.0h0M570.2 74.8h0M566.3 71.5h0M556.9 64.9h0M551.6 76.6h0M583.9 64.7h0M569.5 68.5h0M572.2 67.1h0M589.3 56.3h0M597.2 52.8h0M554.6 66.0h0M575.9 51.8h0M579.1 71.7h0M570.7 60.9h0M574.4 66.3h0M563.0 57.3h0M587.3 59.8h0M572.7 58.4h0M581.7 85.9h0M579.5 53.6h0M575.5 55.9h0M576.6 71.4h0M575.6 73.4h0M582.0 43.3h0M574.9 66.4h0M569.9 74.0h0M554.1 63.8h0M566.3 74.0h0M554.1 69.7h0M566.2 60.0h0M570.0 63.6h0M563.9 57.8h0M582.9 79.2h0M568.6 63.4h0M554.5 67.6h0M585.8 66.3h0M559.7 70.8h0M554.5 71.6h0M569.1 69.9h0M580.0 62.7h0M582.4 62.1h0M569.9 64.9h0M553.7 73.3h0M565.8 82.5h0M555.4 67.8h0M564.2 64.7h0M571.2 70.7h0M577.0 66.6h0M569.3 74.7h0M569.2 55.8h0M557.9 74.4h0M550.4 74.3h0M559.7 69.0h0M582.2 62.2h0M573.9 48.3h0M563.6 71.9h0M582.7 61.8h0M559.7 59.5h0M585.6 58.4h0M578.7 75.4h0M561.5 67.3h0M579.3 67.1h0M558.2 70.2h0M554.5 67.1h0M569.8 63.3h0M571.6 76.6h0M569.8 73.5h0M561.0 64.9h0M588.2 66.3h0M562.7 68.9h0M557.4 66.8h0M584.1 63.5h0M581.9 53.4h0M567.0 54.9h0M555.2 58.3h0M577.0 67.8h0M563.4 57.0h0M586.3 58.7h0M551.4 73.7h0M574.7 60.7h0M553.7 56.1h0M583.3 59.4h0M567.1 67.6h0M577.3 55.7h0M560.2 70.6h0M552.7 68.7h0M561.8 72.6h0M552.4 65.3h0M583.4 63.4h0M585.9 64.4h0M579.2 82.8h0M558.8 79.4h0M568.1 71.1h0M564.5 80.9h0M582.0 52.7h0M575.2 73.0h0M572.1 61.1h0M561.4 65.5h0M559.8 73.4h0M559.2 82.7h0M567.8 55.6h0M570.1 68.8h0M557.0 68.4h0M562.7 67.8h0M580.4 45.9h0M559.8 79.2h0M558.0 74.0h0M562.3 62.1h0M555.6 62.3h0M560.3 64.0h0M578.8 74.0h0M588.2 57.3h0M569.5 71.0h0M568.6 67.4h0M567.9 69.6h0M568.3 73.6h0M565.2 71.7h0M582.7 67.9h0M558.8 62.1h0M566.8 68.7h0M567.0 65.2h0M569.7 67.7h0M566.0 68.2h0M577.9 57.7h0M566.9 65.3h0M573.2 73.0h0M565.8 64.1h0M552.4 64.7h0M560.3 76.2h0M558.9 80.0h0M569.5 64.7h0M560.2 72.4h0M553.0 67.8h0M570.3 64.9h0M577.8 72.2h0M588.5 59.3h0M567.7 65.6h0M561.7 57.2h0M581.7 63.9h0M570.4 70.3h0M564.4 78.1h0M600.4 69.1h0M556.7 76.1h0M570.0 74.6h0M574.6 55.4h0M559.4 81.7h0M569.7 74.1h0M577.0 74.7h0M598.6 58.9h0M559.1 75.7h0M572.3 77.9h0M573.8 59.6h0M571.2 71.6h0M557.5 81.6h0M570.5 60.1h0M565.8 59.3h0M574.8 68.1h0M581.9 62.3h0M582.0 66.2h0M575.0 69.8h0M569.4 60.8h0M556.3 76.1h0M570.2 76.0h0M569.7 64.1h0M562.6 68.0h0M565.8 59.6h0M561.1 77.8h0M592.4 72.3h0M589.2 46.6h0M566.0 75.0h0M575.8 71.6h0M563.7 65.3h0M581.9 58.3h0M570.0 58.3h0M566.7 62.1h0M566.1 70.1h0M571.8 71.4h0M556.8 74.1h0M578.9 69.8h0M560.5 73.1h0M570.8 57.0h0M574.3 76.8h0M584.8 69.7h0M565.8 63.1h0M585.9 74.0h0M558.9 76.0h0M575.8 65.3h0M571.6 81.9h0M562.6 50.0h0M564.0 56.6h0M581.5 67.4h0M569.1 59.7h0M584.0 64.4h0M554.4 69.0h0M593.2 70.7h0M570.4 68.9h0M560.7 68.2h0M563.8 68.6h0M571.0 53.4h0M564.4 65.3h0M584.4 73.5h0M565.6 73.3h0M570.8 73.1h0M565.6 74.0h0M573.4 68.3h0M593.7 63.9h0M568.8 58.0h0M569.4 64.4h0M563.7 77.0h0M557.1 67.2h0M584.1 56.8h0M559.0 82.1h0M562.4 83.2h0M565.2 64.4h0M560.7 64.8h0M593.1 61.0h0M570.4 61.4h0M578.6 68.0h0M556.9 77.8h0M561.0 72.0h0M582.7 85.2h0M591.8 68.0h0M560.0 78.5h0M589.1 82.4h0M589.7 66.9h0M562.1 65.0h0M585.6 60.4h0M564.2 65.2h0M582.3 63.5h0M568.6 69.9h0M563.7 69.6h0M561.4 67.2h0M588.3 65.4h0M580.1 49.3h0M557.3 73.2h0M590.1 60.0h0M556.5 54.0h0M562.9 56.3h0M564.3 62.7h0M569.2 72.8h0M560.7 66.5h0M563.4 66.9h0M555.9 55.5h0M570.9 63.2h0M559.4 73.9h0M567.1 74.1h0M565.7 66.8h0M584.4 62.2h0M574.1 68.8h0M564.9 64.0h0M572.2 59.9h0M579.3 78.9h0M578.4 56.2h0M578.2 73.5h0M589.6 58.5h0M588.8 70.4h0M565.8 63.9h0M565.1 73.7h0M579.7 65.3h0M573.7 63.6h0M568.2 70.6h0M571.1 63.4h0M579.8 68.8h0M577.5 62.9h0M579.3 59.7h0M561.7 70.3h0M570.0 59.7h0M577.4 74.6h0M560.2 75.1h0M564.0 76.9h0M556.3 70.4h0M568.9 55.9h0M570.2 70.1h0M579.4 63.5h0M570.9 62.6h0M561.1 72.1h0M569.0 58.8h0M564.4 71.7h0M571.6 56.4h0M568.0 57.6h0M561.1 82.9h0M566.1 63.2h0M562.3 53.4h0M567.8 76.3h0M576.4 57.8h0M577.3 34.7h0M563.8 69.6h0M567.1 76.2h0M572.3 80.3h0M562.8 69.5h0M568.5 59.6h0M575.8 65.8h0M564.6 82.4h0M565.5 73.5h0M557.5 74.4h0M571.0 50.4h0M549.3 73.8h0M560.5 61.0h0M593.7 62.4h0M566.6 62.7h0M575.0 67.8h0M563.4 62.0h0M564.2 60.2h0M573.5 66.7h0M573.0 67.6h0M580.2 55.2h0M582.9 66.2h0M559.6 79.3h0M581.6 63.5h0M568.7 50.2h0M582.6 77.0h0M558.2 73.3h0M553.1 71.3h0M571.4 72.1h0M571.1 70.7h0M554.5 64.7h0M575.2 78.2h0M575.1 62.8h0M565.4 54.8h0M560.6 83.2h0M569.3 77.9h0M572.0 70.8h0M562.4 63.4h0M566.3 76.7h0M566.1 84.5h0M579.4 69.6h0M572.8 79.2h0M567.3 62.1h0M560.2 80.3h0M564.0 77.8h0M565.5 57.0h0M551.2 70.1h0M564.7 70.4h0M583.9 64.4h0M569.9 65.4h0M585.3 59.5h0M566.4 68.0h0M565.0 70.3h0M553.8 79.7h0M563.1 74.6h0M585.0 59.7h0M573.0 68.0h0M575.5 60.9h0M579.2 69.6h0M566.6 64.6h0M571.2 80.3h0M569.7 67.2h0M577.1 66.2h0M571.3 60.3h0M573.0 63.0h0M570.7 68.3h0M559.3 72.4h0M563.3 65.2h0M553.5 65.3h0M580.3 62.7h0M567.5 73.0h0M600.4 63.3h0M563.3 67.8h0M567.7 67.2h0M577.6 48.3h0M562.3 60.1h0M578.9 71.7h0M571.3 71.4h0M561.9 65.7h0M603.4 46.3h0M568.9 67.0h0M556.4 59.0h0M564.1 74.0h0M571.7 63.5h0M579.1 78.4h0M574.0 56.5h0M573.2 74.1h0M549.3 71.3h0M577.9 72.1h0M561.6 63.1h0M567.3 74.6h0M549.5 73.2h0M558.9 65.6h0M559.3 71.0h0M569.5 71.5h0M552.6 78.9h0M574.0 78.6h0M572.5 73.0h0M559.7 68.8h0M577.8 60.4h0M560.0 60.8h0M563.7 71.4h0M577.4 61.4h0M566.0 82.4h0M571.0 69.5h0M560.1 76.4h0M596.8 69.3h0M577.5 59.6h0M581.6 61.8h0M556.2 75.9h0M584.4 69.2h0M570.5 78.5h0M565.2 69.2h0M570.0 61.3h0M551.1 69.8h0M573.0 54.2h0M569.0 68.8h0M578.4 74.7h0M567.4 50.3h0M564.6 81.6h0M574.4 51.8h0M582.7 64.1h0M575.0 54.4h0M577.0 70.6h0M578.3 69.9h0M580.9 69.1h0M565.3 70.0h0M571.3 71.4h0M570.9 82.2h0M559.9 66.6h0M573.5 58.9h0M584.3 58.6h0M560.3 70.0h0M558.0 73.6h0M583.5 55.9h0M560.1 77.5h0M592.9 56.9h0M570.1 70.3h0M558.0 73.1h0M582.0 66.9h0M584.4 50.5h0M587.8 61.9h0M566.5 72.8h0M587.9 64.1h0M567.4 77.7h0M575.1 67.0h0M578.7 61.8h0M587.7 45.3h0M589.4 60.1h0M575.6 62.2h0M564.6 67.3h0M570.1 87.6h0M558.9 57.0h0M558.8 73.2h0M569.1 78.0h0M574.5 75.7h0M564.0 59.6h0M595.5 47.4h0M579.3 68.2h0M561.8 68.8h0M580.6 76.8h0M554.7 76.6h0M562.0 72.9h0M584.4 58.4h0M575.8 65.7h0M552.4 70.1h0M567.6 68.3h0M578.0 59.6h0M575.1 67.2h0M568.3 56.4h0M553.5 62.7h0M562.4 74.9h0M570.3 69.3h0M576.1 56.5h0M558.0 71.3h0M551.9 67.2h0M588.5 75.9h0M552.4 62.7h0M586.7 74.1h0M568.6 61.2h0M580.2 66.3h0M588.1 56.8h0M575.3 61.8h0M580.6 70.4h0M560.3 78.9h0M559.3 70.1h0M573.1 58.4h0M593.2 74.0h0M589.4 70.2h0M596.2 56.4h0M571.2 64.5h0M571.8 69.2h0M580.6 63.3h0M572.5 76.4h0M564.6 62.0h0M556.2 74.2h0M577.6 57.4h0M560.1 83.2h0M580.3 77.8h0M551.5 75.5h0M583.1 65.9h0M560.9 83.6h0M577.4 61.6h0M566.7 77.9h0M584.0 65.2h0M558.3 71.3h0M574.0 78.0h0M563.6 72.6h0M573.2 69.0h0M573.4 65.5h0M575.2 65.0h0M558.4 71.3h0M558.1 76.9h0M569.3 69.9h0M555.9 62.4h0M595.8 56.4h0M549.1 74.6h0M581.7 73.9h0M587.9 79.3h0M572.4 59.4h0M560.7 66.4h0M570.7 61.4h0M582.0 62.4h0M567.6 77.8h0M551.7 65.2h0M564.9 54.5h0M561.1 81.0h0M576.5 75.7h0M566.2 56.5h0M589.2 59.7h0M584.8 69.8h0M581.7 70.6h0M555.2 76.2h0M565.9 75.3h0M563.1 73.6h0M561.8 66.8h0M573.6 65.9h0M567.6 59.4h0M571.3 63.1h0M557.5 60.5h0M583.7 61.3h0M574.2 74.8h0M564.6 79.6h0M574.6 83.0h0M581.1 65.6h0M561.2 62.0h0M562.8 63.8h0M559.6 69.7h0M572.2 55.8h0M559.2 62.2h0M560.5 69.9h0M559.2 71.2h0M577.0 69.4h0M558.3 63.0h0M579.2 72.2h0M563.1 78.3h0M570.6 61.9h0M578.5 78.2h0M581.5 59.3h0M586.6 75.0h0M565.2 78.9h0M563.6 63.1h0M551.8 72.3h0M594.3 71.9h0M576.9 72.8h0M584.4 59.5h0M565.4 71.5h0M584.0 54.5h0M568.9 66.4h0M567.9 63.0h0M567.7 65.1h0M577.6 68.0h0M571.6 58.8h0M581.6 63.1h0M564.7 76.5h0M565.9 77.0h0M592.8 67.3h0M581.3 67.6h0M566.8 75.1h0M572.2 71.3h0M571.9 59.1h0M566.7 67.1h0M556.3 80.4h0M559.0 72.3h0M555.2 78.3h0M567.6 59.9h0M582.6 73.2h0M578.7 58.7h0M561.1 75.1h0M640.4 34.3h0M562.9 78.8h0M551.0 73.3h0M550.1 68.6h0M596.6 39.1h0M562.5 68.5h0M603.4 41.8h0M616.2 50.3h0M632.7 25.3h0M571.9 55.9h0M609.6 51.6h0M583.5 71.7h0M587.5 61.9h0M593.2 59.4h0M591.5 62.3h0M585.2 74.3h0M585.4 65.5h0M561.9 60.9h0M584.3 56.9h0M618.9 46.3h0M646.3 28.0h0M567.8 66.5h0M634.7 33.9h0M611.7 42.1h0M564.9 75.9h0M572.3 60.5h0M559.9 72.7h0M625.4 59.0h0M645.8 39.3h0M599.9 57.7h0M579.2 45.1h0M583.7 64.4h0M565.3 62.6h0M608.8 37.9h0M567.4 83.9h0M586.9 46.3h0M581.3 57.0h0M564.8 79.8h0M613.2 52.9h0M575.7 64.0h0M617.6 41.0h0M640.0 33.5h0M582.6 68.0h0M636.6 32.9h0M619.2 41.8h0M622.1 55.4h0M560.5 56.5h0M577.9 60.7h0M561.1 75.7h0M630.1 31.3h0M628.3 35.8h0M555.5 63.3h0M607.4 51.3h0M576.6 59.2h0M613.1 55.9h0M619.2 41.4h0M560.2 74.4h0M592.3 57.6h0M602.3 42.1h0M587.6 61.2h0M572.3 73.2h0M573.1 54.6h0M580.7 69.9h0M577.1 82.1h0M586.0 65.2h0M567.4 56.5h0M601.2 53.2h0M642.2 34.6h0M569.9 65.6h0M616.2 41.9h0M564.5 72.1h0M602.9 46.2h0M565.5 70.5h0M588.3 67.4h0M585.6 56.1h0M633.8 41.8h0M567.8 61.0h0M598.1 51.2h0M609.7 46.9h0M587.6 69.8h0M637.9 31.3h0M589.0 68.9h0M577.0 51.8h0M612.7 46.1h0M604.0 59.3h0M622.0 48.7h0M560.7 63.4h0M558.6 62.5h0M625.9 48.0h0M583.0 50.7h0M637.2 39.3h0M572.0 62.2h0M577.9 63.7h0M639.3 49.4h0M590.0 71.3h0M560.0 79.4h0M565.7 57.9h0M585.9 60.5h0M601.6 51.8h0M632.8 47.1h0M605.8 36.1h0M644.1 33.2h0M578.5 57.2h0M599.9 42.7h0M573.8 65.9h0M569.3 68.5h0M575.8 46.1h0M559.8 60.1h0M624.6 34.9h0M611.0 54.9h0M560.7 79.9h0M635.6 40.3h0M610.9 50.3h0M589.9 39.4h0M564.3 72.0h0M591.8 52.9h0M613.4 58.5h0M606.0 69.6h0M612.9 53.3h0M605.7 57.6h0M607.3 41.2h0M568.6 68.8h0M559.7 61.8h0M627.4 32.4h0M554.6 72.9h0M570.6 60.2h0M606.5 46.3h0M599.8 57.3h0M641.3 31.0h0M573.9 67.5h0M558.6 64.3h0M574.2 77.4h0M597.8 48.9h0M582.0 70.4h0M606.8 68.3h0M612.2 27.7h0M584.2 52.3h0M618.3 43.0h0M559.8 82.2h0M603.2 47.7h0M608.9 53.9h0M577.3 71.1h0M568.9 42.5h0M586.1 43.8h0M608.7 64.7h0M634.5 38.1h0M591.2 49.8h0M626.0 49.2h0M574.8 74.8h0M571.4 72.1h0M585.2 64.6h0M560.4 57.8h0M581.7 67.0h0M604.6 49.6h0M581.4 73.0h0M563.6 81.6h0M605.3 45.3h0M619.5 39.3h0M564.8 71.5h0M591.5 62.9h0M557.3 69.8h0M554.9 73.5h0M587.8 64.2h0M578.6 67.0h0M639.3 41.7h0M553.8 77.1h0M610.4 40.8h0M617.6 31.2h0M595.3 62.5h0M596.4 52.1h0M572.8 63.1h0M576.5 61.9h0M554.9 61.0h0M641.7 31.6h0M566.8 65.4h0M601.9 68.2h0M603.9 55.3h0M581.8 60.0h0M572.8 67.4h0M627.9 45.5h0M563.0 64.2h0M579.2 61.0h0M622.5 39.9h0M591.9 78.4h0M645.6 32.1h0M559.6 55.4h0M604.5 58.0h0M612.8 69.5h0M593.0 48.3h0M638.1 59.9h0M556.0 73.4h0M608.1 58.0h0M627.1 36.5h0M560.8 69.3h0M600.4 42.4h0M589.8 48.9h0M588.4 40.2h0M606.0 60.3h0M606.7 40.2h0M617.0 48.4h0M641.8 35.4h0M613.6 41.2h0M649.2 30.3h0M615.9 44.9h0M575.8 60.3h0M564.2 70.5h0M556.9 73.9h0M575.5 55.9h0M559.4 61.1h0M619.3 37.3h0M614.0 58.6h0M590.9 70.2h0M601.2 55.3h0M576.7 72.3h0M642.4 33.9h0M561.1 81.1h0M582.8 62.4h0M610.2 51.8h0M562.7 68.3h0M632.9 37.7h0M600.0 69.6h0M584.0 50.3h0M558.1 72.9h0M574.9 59.9h0M614.3 54.8h0M586.0 75.5h0M553.9 72.2h0M596.9 30.6h0M579.3 68.3h0M634.2 41.1h0M619.0 31.2h0M618.5 42.4h0M638.4 34.8h0M588.0 64.7h0M609.2 52.6h0M577.0 66.1h0M563.0 61.4h0M568.0 62.0h0M563.7 64.7h0M575.9 68.7h0M571.9 57.8h0M620.1 56.4h0M572.4 69.4h0M598.9 68.3h0M570.2 68.5h0M615.3 41.2h0M574.4 66.1h0M597.7 38.3h0M570.4 68.7h0M589.4 36.7h0M626.0 33.6h0M585.2 71.9h0M605.2 61.7h0M590.7 54.5h0M556.5 65.1h0M555.8 82.0h0M634.1 36.8h0M588.3 60.5h0M620.2 49.0h0M583.8 51.3h0M632.5 43.3h0M566.0 50.6h0M602.6 64.6h0M597.1 40.7h0M626.1 36.3h0M553.9 68.9h0M589.9 64.2h0M601.8 58.7h0M607.4 52.7h0M566.6 73.5h0M605.0 54.8h0M618.2 43.9h0M610.2 31.5h0M565.1 49.3h0M582.9 41.0h0M584.1 60.1h0M592.6 54.6h0M590.8 56.1h0M645.2 32.9h0M551.1 74.0h0M643.6 27.8h0M554.7 57.7h0M573.4 76.2h0M581.0 69.9h0M632.3 29.5h0M636.8 34.1h0M642.5 35.5h0M600.8 66.6h0M558.8 67.1h0M609.1 50.2h0M553.8 59.5h0M629.1 34.3h0M550.6 75.9h0M619.8 37.9h0M609.0 67.3h0M643.4 37.3h0M553.2 66.6h0M603.0 59.2h0M577.6 69.0h0M593.9 51.3h0M556.9 69.5h0M582.9 48.2h0M587.4 58.2h0M557.4 80.6h0M605.5 59.1h0M639.6 37.8h0M556.8 80.5h0M596.4 50.5h0M568.2 78.5h0M645.2 34.0h0M596.3 47.7h0M596.6 58.9h0M594.2 63.0h0M639.8 38.5h0M565.1 70.3h0M565.1 64.8h0M577.5 67.0h0M564.1 84.7h0M593.8 50.0h0M609.1 51.6h0M595.0 57.3h0M572.2 63.4h0M605.5 58.7h0M600.9 53.4h0M582.9 70.2h0M575.8 84.5h0M585.6 57.8h0M616.1 38.2h0M571.1 70.5h0M647.1 30.5h0M575.7 65.6h0M577.8 58.1h0M564.2 74.6h0M592.0 57.3h0M583.7 41.7h0M642.2 35.0h0M578.0 73.6h0M630.6 34.7h0M579.5 55.5h0M592.2 66.6h0M562.0 65.5h0M636.4 36.5h0M587.8 62.7h0M557.3 73.0h0M614.2 36.6h0M577.4 72.4h0M589.8 53.9h0M615.1 41.2h0M578.2 80.7h0M607.6 57.0h0M630.7 31.6h0M564.6 65.3h0M593.3 53.9h0M566.8 61.9h0M555.6 57.0h0M598.3 60.7h0M600.9 59.2h0M612.0 49.3h0M616.6 46.9h0M587.5 64.3h0M591.9 47.6h0M615.9 42.5h0M628.1 35.8h0M619.8 49.6h0M600.6 54.9h0M559.1 60.8h0M635.2 32.7h0M588.9 73.5h0M585.9 51.0h0M569.9 61.5h0M579.6 61.9h0M553.0 71.2h0M595.4 44.8h0M622.6 40.3h0M592.4 63.6h0M595.7 43.3h0M635.1 47.0h0M566.7 66.3h0M579.0 53.5h0M562.9 71.4h0M599.5 48.0h0M613.1 41.1h0M575.0 63.8h0M639.8 25.5h0M559.0 76.6h0M581.6 56.9h0M632.5 41.2h0M636.2 39.8h0M573.9 66.7h0M609.8 59.4h0M560.9 68.3h0M590.2 48.8h0M608.7 51.7h0M563.8 46.2h0M588.3 55.1h0M588.6 60.0h0M554.3 70.7h0M563.4 80.9h0M627.1 45.4h0M550.4 77.1h0M638.7 41.3h0M643.0 29.4h0M624.2 38.3h0M554.8 80.5h0M572.4 70.9h0M583.5 78.2h0M568.5 65.7h0M643.8 35.8h0M641.0 40.9h0M618.2 42.8h0M584.9 73.4h0M628.5 34.9h0M577.6 59.1h0M557.0 62.1h0M565.3 73.8h0M595.8 61.0h0M635.5 40.0h0M553.4 64.0h0M591.9 50.0h0M580.1 49.7h0M562.4 58.7h0M611.1 33.8h0M580.5 60.3h0M614.9 49.4h0M629.1 34.6h0M584.5 59.9h0M578.9 67.6h0M564.6 66.8h0M577.0 64.0h0M565.5 66.3h0M619.5 39.3h0M562.0 70.9h0M565.9 59.1h0M627.4 47.9h0M621.4 31.1h0M585.4 47.8h0M630.5 44.7h0M580.2 55.0h0M620.8 39.4h0M554.2 73.8h0M616.4 48.5h0M625.1 63.0h0M604.7 38.7h0M605.2 61.0h0M605.0 45.3h0M568.0 70.1h0M562.5 77.9h0M582.5 65.6h0M607.5 52.8h0M576.7 61.9h0M567.3 68.0h0M595.7 56.0h0M595.8 65.0h0M571.4 53.5h0M638.1 32.2h0M552.3 66.8h0M591.6 49.7h0M578.1 72.5h0M587.1 77.3h0M559.2 83.6h0M555.3 63.5h0M552.5 75.7h0M562.4 60.6h0M620.7 46.7h0M567.1 79.1h0M634.5 42.3h0M577.7 61.9h0M611.5 30.5h0M562.6 69.4h0M611.2 52.4h0M602.1 62.7h0M579.3 59.4h0M577.9 63.8h0M559.8 73.8h0M619.0 52.9h0M575.6 63.6h0M585.8 49.9h0M585.5 63.0h0M581.4 64.8h0M639.8 27.6h0M609.2 48.3h0M597.0 39.3h0M563.7 52.5h0M615.7 43.2h0M587.6 54.8h0M607.2 54.2h0M593.4 68.2h0M558.4 72.0h0M641.3 43.9h0M614.8 40.6h0M577.0 52.6h0M581.6 62.4h0M561.0 68.3h0M583.3 58.8h0M586.8 64.0h0M560.8 54.8h0M577.6 64.2h0M577.2 56.4h0M636.1 36.6h0M597.7 57.2h0M625.9 37.9h0M551.7 72.2h0M568.8 57.4h0M644.6 34.7h0M555.5 67.8h0M560.8 74.9h0M600.9 40.0h0M580.9 73.5h0M570.0 58.0h0M611.8 57.1h0M610.7 43.8h0M575.2 69.0h0M599.3 51.8h0M598.7 59.1h0M632.3 37.6h0M561.8 81.6h0M576.5 69.5h0M605.4 56.0h0M633.1 32.9h0M582.0 61.8h0M617.7 32.7h0M583.5 64.6h0M645.4 30.6h0M578.7 77.3h0M556.9 73.4h0M597.2 56.0h0M651.0 31.1h0M609.4 39.7h0M612.1 59.1h0M614.6 60.2h0M589.4 57.6h0M630.9 28.4h0M621.5 44.1h0M592.9 57.5h0M580.7 68.0h0M565.5 66.4h0M578.7 52.5h0M589.2 56.6h0M555.9 65.5h0M574.2 58.8h0M605.3 44.6h0M556.5 72.8h0M600.8 41.7h0M611.3 43.5h0M560.1 70.3h0M645.3 29.4h0M564.4 67.3h0M580.5 72.5h0M626.2 43.7h0M582.6 49.4h0M579.4 68.8h0M578.9 57.0h0M617.5 45.2h0M636.8 35.4h0M578.7 61.2h0M597.3 52.7h0M587.3 51.2h0M615.9 48.3h0M567.3 60.1h0M638.1 45.9h0M618.2 44.0h0M566.8 66.4h0M583.8 67.1h0M581.8 60.5h0M645.0 32.2h0M594.0 55.0h0M609.0 42.2h0M586.3 53.1h0M644.1 38.1h0M576.9 58.2h0M550.1 72.7h0M560.5 67.4h0M624.5 46.7h0M594.6 72.3h0M603.7 55.7h0M624.7 42.0h0M588.9 55.3h0M611.3 51.7h0M616.7 34.6h0M588.8 65.1h0M599.2 55.0h0M630.9 31.9h0M644.6 40.4h0M585.9 66.6h0M560.0 81.5h0M630.5 29.3h0M594.6 52.9h0M638.1 32.0h0M627.0 44.7h0M595.0 66.7h0M605.0 50.5h0M615.9 44.1h0M604.3 50.3h0M588.5 56.4h0M591.0 48.0h0M609.0 41.8h0M587.4 59.0h0M619.4 39.7h0M604.3 53.1h0M623.3 30.9h0M634.1 53.4h0M606.2 60.6h0M629.9 25.5h0M553.7 67.1h0M548.5 74.9h0M587.7 69.7h0M594.6 65.6h0M625.8 50.3h0M572.7 65.7h0M618.6 54.4h0M640.5 30.4h0M582.6 50.8h0M601.9 50.7h0M603.2 59.7h0M578.9 51.0h0M591.1 43.0h0M644.2 34.9h0M627.3 22.8h0M586.6 74.7h0M615.8 41.5h0M643.1 36.5h0M594.4 71.3h0M629.4 29.7h0M625.5 33.4h0M559.8 69.2h0M646.4 32.2h0M578.6 71.8h0M618.4 55.4h0M558.7 73.1h0M611.5 44.4h0M623.9 41.2h0M627.3 42.2h0M636.0 44.4h0M576.2 65.1h0M567.8 83.5h0M628.4 33.7h0M558.2 76.9h0M579.5 77.4h0M578.0 74.1h0M631.1 40.4h0M589.5 50.0h0M617.8 43.0h0M630.0 40.8h0M627.3 38.2h0M631.3 29.1h0M573.3 58.9h0M582.7 65.3h0M610.7 54.8h0M604.2 38.7h0M624.4 38.6h0M625.7 29.3h0M576.4 59.0h0M622.4 42.7h0M612.5 43.9h0M572.0 60.8h0M554.4 63.7h0M573.0 65.0h0M576.9 61.2h0M578.3 75.6h0M556.1 59.3h0M567.2 71.9h0M591.4 68.2h0M559.8 54.8h0M574.0 70.6h0M592.4 42.4h0M627.8 43.5h0M590.6 57.1h0M559.8 74.1h0M577.4 57.4h0M620.2 45.6h0M597.8 63.4h0M609.1 46.8h0M614.3 49.3h0M635.1 41.6h0M554.5 60.0h0M581.6 61.9h0M551.5 69.6h0M603.6 55.3h0M616.5 53.8h0M578.1 65.7h0M567.5 79.1h0M598.8 44.8h0M563.5 66.4h0M565.7 60.3h0M585.1 60.2h0M639.6 34.8h0M587.1 57.0h0M584.5 59.3h0M588.5 54.3h0M569.4 72.3h0M567.7 65.6h0M628.2 48.3h0M596.2 56.5h0M574.3 48.8h0M635.5 28.1h0M577.7 71.5h0M598.8 65.6h0M604.4 50.4h0M571.9 69.7h0M590.2 44.9h0M568.8 48.0h0M631.8 34.3h0M556.9 70.8h0M647.7 24.3h0M575.2 65.1h0M582.3 63.7h0M558.2 77.9h0M555.2 70.6h0M604.3 51.6h0M587.5 63.7h0M606.5 40.7h0M588.4 69.6h0M640.6 38.9h0M572.8 63.6h0M583.4 93.2h0M615.2 52.8h0M595.3 63.0h0M610.6 63.2h0M603.8 59.3h0M616.5 46.8h0M564.5 75.5h0M557.4 64.9h0M571.9 52.7h0M586.0 63.0h0M578.4 67.7h0M611.2 34.1h0M650.3 38.1h0M586.0 49.4h0M581.9 70.2h0M585.4 55.1h0M556.4 75.9h0M554.8 68.4h0M588.3 67.2h0M649.3 38.3h0M570.1 73.6h0M608.8 54.6h0M568.3 69.0h0M553.8 72.5h0M635.0 40.4h0M567.0 69.7h0M568.1 66.5h0M621.1 32.6h0M574.0 62.4h0M574.9 69.9h0M576.2 67.1h0M576.9 54.9h0M600.3 44.9h0M581.4 55.2h0M579.9 59.8h0M566.3 59.4h0M565.7 74.9h0M581.1 57.9h0M554.5 73.3h0M621.8 64.6h0M625.8 52.5h0M627.6 44.4h0M629.6 45.9h0M590.9 58.2h0M570.9 74.9h0M550.3 71.0h0M591.4 50.8h0M599.7 66.7h0M618.9 57.4h0M615.3 55.0h0M573.3 62.8h0M628.7 46.5h0M595.6 54.1h0M617.2 42.4h0M573.5 65.2h0M642.0 34.1h0M566.3 63.8h0M619.3 33.3h0M640.7 43.9h0M564.5 66.3h0M628.2 27.9h0M605.7 30.8h0M596.3 30.5h0M578.0 58.1h0M589.1 69.8h0M574.1 51.1h0M590.8 54.5h0M604.8 34.9h0M625.9 49.5h0M616.3 48.5h0M586.9 62.0h0M586.8 70.9h0M629.1 51.9h0M571.4 61.5h0M592.1 45.3h0M576.6 55.0h0M638.4 25.8h0M633.5 36.1h0M626.1 41.7h0M581.1 63.6h0M621.7 60.3h0M589.0 53.3h0M615.4 56.0h0M592.0 59.4h0M588.6 41.8h0M636.0 42.0h0M601.5 45.9h0M582.8 57.2h0M566.7 69.5h0M640.6 40.5h0M648.0 27.7h0M633.8 38.3h0M610.1 50.7h0M609.8 48.7h0M591.0 55.1h0M634.5 45.0h0M627.7 35.1h0M633.6 28.7h0M592.5 56.2h0M616.5 55.5h0M560.9 67.0h0M551.9 70.3h0M559.9 68.9h0M622.1 44.0h0M582.4 59.8h0M554.7 59.5h0M569.0 80.6h0M587.4 51.5h0M577.8 75.4h0M624.5 45.1h0M582.2 74.2h0M642.2 27.5h0M583.1 75.4h0M633.4 37.7h0M589.2 40.3h0M582.4 58.7h0M639.1 29.3h0M579.9 60.7h0M591.0 40.5h0M612.6 52.2h0M606.0 48.4h0M615.4 43.5h0M620.9 55.4h0M579.7 62.9h0M606.8 49.3h0M610.5 57.3h0M601.1 47.5h0M640.4 28.7h0M581.8 69.6h0M639.4 34.9h0M566.9 68.4h0M622.3 60.6h0M636.6 29.1h0M567.4 70.1h0M622.1 29.7h0M572.3 63.5h0M559.2 77.3h0M598.3 63.6h0M615.0 35.3h0M579.1 70.1h0M548.4 76.3h0M587.4 80.3h0M588.8 58.3h0M579.0 55.3h0M582.6 64.9h0M577.7 77.0h0M578.1 71.9h0M614.1 42.9h0M586.3 64.8h0M623.1 46.5h0M602.1 68.8h0M580.6 56.8h0M560.3 60.6h0M565.6 51.6h0M637.6 33.7h0M590.4 44.0h0M581.0 60.5h0M574.3 68.7h0M631.3 35.5h0M608.9 40.7h0M623.8 51.7h0M632.2 36.6h0M571.9 68.3h0M623.1 50.0h0M555.1 62.9h0M615.0 38.1h0M592.7 78.1h0M618.1 43.2h0M569.9 58.2h0M585.9 57.5h0M615.2 40.9h0M586.3 56.0h0M569.6 67.2h0M566.3 68.8h0M616.9 49.7h0M636.6 26.3h0M588.5 65.3h0M559.5 68.2h0M643.2 39.4h0M567.4 71.0h0M552.4 63.2h0M627.4 44.2h0M641.3 28.5h0M630.8 40.4h0M568.4 78.5h0M597.8 72.3h0M602.5 51.3h0M640.4 38.1h0M628.6 41.8h0M560.7 78.4h0M582.8 39.1h0M624.6 38.6h0M608.2 51.7h0M618.8 48.3h0M642.0 29.6h0M648.7 34.0h0M608.5 49.7h0M576.3 62.2h0M563.5 67.1h0M570.0 68.3h0M616.5 55.5h0M631.1 49.4h0M638.3 32.4h0M577.4 56.8h0M585.6 68.3h0M569.6 69.2h0M604.7 53.4h0M639.8 37.1h0M596.9 53.5h0M563.3 61.3h0M634.1 33.3h0M638.3 35.8h0M626.9 43.3h0M580.3 59.1h0M589.7 54.3h0M609.1 60.6h0M573.2 67.6h0M591.5 54.3h0M561.4 63.8h0M577.7 58.9h0M626.2 34.9h0M620.9 50.4h0M593.8 46.1h0M590.8 53.8h0M577.1 69.5h0M622.5 41.6h0M601.1 56.8h0M557.1 80.4h0M604.2 36.8h0M553.9 66.5h0M647.6 37.2h0M558.0 71.8h0M583.3 65.2h0M647.7 39.0h0M644.8 30.4h0M569.2 68.2h0M626.9 43.4h0M608.5 46.8h0M588.9 69.0h0M629.5 45.1h0M615.9 54.1h0M573.9 65.7h0M593.4 53.2h0M621.7 40.1h0M610.1 45.2h0M598.3 39.8h0M619.5 46.9h0M568.6 74.8h0M555.7 73.8h0M556.8 69.1h0M610.3 48.5h0M590.9 59.2h0M560.8 64.2h0M586.4 62.5h0M593.9 61.8h0M603.8 51.9h0M604.6 42.1h0M576.9 58.8h0M617.5 50.8h0M586.6 71.7h0M603.2 45.9h0M562.0 74.9h0M601.6 56.7h0M600.8 61.2h0M608.3 52.9h0M611.2 55.4h0M620.2 34.6h0M563.5 70.6h0M607.2 32.8h0M586.5 46.3h0M562.7 74.9h0M630.2 36.8h0M595.2 53.3h0M636.9 34.2h0M633.2 38.3h0M604.0 54.1h0M638.7 32.4h0M626.9 34.9h0M553.5 70.4h0M567.5 75.1h0M583.4 57.2h0M612.6 59.4h0M615.4 43.7h0M612.1 58.9h0M631.2 31.0h0M623.6 36.8h0M562.6 74.7h0M585.9 63.8h0M634.5 35.8h0M630.5 53.9h0M555.3 74.6h0M614.4 48.7h0M559.3 67.3h0M599.8 67.1h0M558.6 76.0h0M627.8 29.3h0M603.6 54.4h0M635.9 38.6h0M563.8 77.7h0M634.9 37.9h0M582.1 68.8h0M622.1 43.9h0M575.0 62.0h0M566.7 59.7h0M579.5 57.0h0M575.8 53.7h0M644.4 37.2h0M576.7 64.8h0M587.7 48.5h0M602.1 51.9h0M617.4 55.0h0M563.1 57.9h0M614.2 40.2h0M568.9 69.4h0M604.7 43.5h0M564.0 65.6h0M633.8 35.7h0M600.0 48.3h0M600.0 54.7h0M556.2 71.6h0M638.7 30.8h0M598.0 54.1h0M632.6 27.9h0M564.9 81.6h0M586.1 58.8h0M612.2 50.1h0M632.1 39.6h0M567.8 58.6h0M566.0 70.1h0M548.8 72.9h0M579.6 57.5h0M582.3 72.1h0M626.3 35.7h0M603.3 47.4h0M585.9 57.2h0M628.3 38.2h0M638.9 35.6h0M610.2 46.4h0M630.0 39.8h0M583.4 64.8h0M563.6 62.9h0M562.1 84.6h0M631.3 35.4h0M569.2 73.0h0M584.1 61.7h0M602.1 49.4h0M558.1 56.2h0M597.6 67.6h0M581.4 55.3h0M555.1 67.4h0M611.6 56.4h0M597.1 54.9h0M574.8 80.7h0M597.0 60.2h0M554.4 76.5h0M637.0 40.1h0M585.9 48.5h0M566.1 70.3h0M574.8 66.0h0M575.5 60.4h0M558.0 74.8h0M579.1 50.5h0M576.9 71.3h0M579.5 73.3h0M614.4 35.5h0M565.2 70.5h0M569.4 70.8h0M577.0 55.1h0M565.0 61.1h0M610.7 55.0h0M641.9 43.6h0M633.3 30.9h0M599.8 53.3h0M621.9 40.4h0M616.5 47.7h0M585.5 54.0h0M603.2 50.0h0M620.1 42.0h0M628.0 47.9h0M555.5 73.9h0M629.0 37.9h0M558.5 80.3h0M585.9 50.9h0M611.0 53.9h0M634.8 43.1h0M556.2 79.0h0M618.1 42.9h0M583.5 60.5h0M583.9 59.3h0M613.1 49.1h0M561.3 78.3h0M629.3 40.1h0M553.0 71.7h0M570.2 59.9h0M587.6 58.3h0M561.1 72.3h0M569.7 66.2h0M631.9 34.9h0M585.6 57.7h0M571.1 48.1h0M612.3 33.9h0M556.7 63.3h0M551.4 79.6h0M641.6 33.0h0M586.1 60.6h0M629.6 47.2h0M587.3 50.2h0M565.3 78.7h0M600.9 55.6h0M566.9 62.5h0M562.3 83.0h0M551.1 64.0h0M587.2 49.5h0M577.6 61.7h0M588.4 61.7h0M641.6 32.5h0M625.8 27.0h0M572.8 64.9h0M635.6 53.3h0M625.4 51.6h0M598.5 54.6h0M572.4 56.7h0M571.5 69.1h0M591.4 47.2h0M579.3 64.2h0M637.2 37.6h0M595.7 51.5h0M618.7 46.1h0M637.4 33.5h0M609.1 43.8h0M571.9 78.8h0M585.7 64.4h0M636.9 33.9h0M553.9 68.2h0M573.5 66.8h0M611.8 52.0h0M631.3 48.4h0M613.5 37.2h0M595.6 71.7h0M560.3 81.1h0M615.7 52.3h0M564.1 80.8h0M620.3 32.4h0M564.5 66.4h0M550.8 71.7h0M649.2 35.1h0M563.9 60.0h0M608.8 46.0h0M564.6 82.1h0M651.5 31.3h0M552.7 71.9h0M622.7 57.7h0M583.4 64.4h0M556.0 71.6h0M558.0 76.8h0M555.4 71.5h0M603.9 52.7h0M635.2 29.1h0M612.4 51.4h0M601.5 49.5h0M572.9 73.2h0M574.6 61.0h0M638.6 37.0h0M597.9 64.0h0M626.4 41.3h0M581.0 66.9h0M563.5 58.2h0M623.4 35.6h0M643.6 35.7h0M584.2 54.9h0M581.2 53.8h0M552.5 68.0h0M646.6 21.9h0M578.0 54.0h0M627.6 31.9h0M576.4 78.1h0M650.2 34.5h0M598.5 43.0h0M633.9 50.2h0M616.0 51.6h0M625.3 39.6h0M560.9 77.9h0M561.3 74.1h0M583.1 54.4h0M636.2 26.6h0M637.7 30.3h0M615.4 45.5h0M613.5 43.5h0M556.5 67.1h0M640.3 39.3h0M610.9 38.8h0M611.5 54.7h0M631.7 35.0h0M575.9 65.0h0M608.4 39.5h0M615.9 45.2h0M620.1 37.4h0M557.6 58.3h0M621.5 42.5h0M644.2 31.9h0M612.8 53.6h0M571.1 68.7h0M557.8 67.5h0M569.5 46.5h0M631.7 31.2h0M610.3 58.7h0M588.1 70.9h0M633.5 42.0h0M611.9 49.7h0M568.6 72.4h0M577.5 67.4h0M624.5 29.7h0M631.1 32.8h0M567.2 78.0h0M607.2 59.1h0M621.5 44.5h0M586.8 56.4h0M560.5 68.1h0M587.8 54.0h0M615.7 30.5h0M571.8 67.2h0M628.0 36.6h0M617.6 42.7h0M585.4 73.8h0M579.8 67.1h0M570.2 60.9h0M591.1 61.7h0M581.5 49.0h0M583.3 69.3h0M635.3 37.9h0M624.1 40.0h0M602.9 56.1h0M618.5 40.4h0M639.4 29.3h0M609.2 48.6h0M622.8 54.2h0M622.5 37.2h0M636.3 32.2h0M587.8 63.7h0M590.6 54.9h0M577.1 57.9h0M645.2 39.4h0M637.6 37.1h0M584.1 43.3h0M589.5 55.7h0M560.8 63.6h0M613.7 41.4h0M616.4 45.3h0M595.7 48.1h0M616.5 30.7h0M637.4 32.4h0M631.1 44.1h0M583.1 49.3h0M604.9 55.6h0M596.3 50.7h0M628.5 41.6h0M595.1 48.8h0M634.4 34.3h0M555.3 65.2h0M551.6 79.4h0M562.7 81.7h0M593.0 50.3h0M594.8 65.1h0M636.4 24.6h0M557.0 64.5h0M599.2 48.1h0M640.1 38.3h0M580.4 44.8h0M625.2 41.7h0M552.3 79.9h0M598.8 52.9h0M570.9 43.7h0M578.6 64.3h0M584.0 67.0h0M595.0 66.1h0M598.4 56.8h0M599.5 38.8h0M626.6 38.8h0M632.4 43.6h0M644.1 28.4h0M622.3 46.7h0M573.4 61.2h0M607.1 50.1h0M593.2 62.2h0M571.8 60.0h0M592.8 80.1h0M573.3 66.5h0M602.8 54.3h0M551.8 69.2h0M600.7 52.9h0M588.0 56.1h0M572.1 53.0h0M608.9 47.8h0M598.4 35.5h0M616.8 42.2h0M566.3 68.0h0M593.4 60.9h0M566.2 58.2h0M606.5 54.6h0M629.9 36.7h0M576.1 59.7h0M562.6 69.1h0M570.7 74.8h0M613.7 50.9h0M558.8 79.5h0M602.9 45.6h0M631.3 36.3h0M618.5 35.0h0M619.6 39.2h0M548.7 73.5h0M589.4 53.8h0M576.7 69.6h0M604.7 54.1h0M570.4 73.0h0M565.0 70.2h0M637.7 35.8h0M568.0 75.9h0M561.1 77.2h0M577.5 62.7h0M636.3 27.9h0M603.3 67.6h0M620.7 46.1h0M586.8 62.6h0M629.9 37.6h0M580.0 58.2h0M580.5 86.0h0M555.3 64.3h0M614.7 45.2h0M605.3 49.8h0M636.1 29.6h0M562.6 59.6h0M641.7 31.6h0M624.9 37.6h0M568.4 74.4h0M564.0 59.7h0M560.9 74.5h0M586.5 71.4h0M630.6 44.6h0M563.5 60.3h0M584.3 35.3h0M616.3 49.2h0M554.4 69.2h0M634.5 44.9h0M609.8 44.7h0M568.5 68.4h0M614.8 37.1h0M593.3 58.5h0M603.9 47.2h0M600.1 48.4h0M581.1 70.7h0M589.3 59.5h0M618.4 32.7h0M636.9 39.6h0M607.8 42.0h0M634.8 34.1h0M564.5 69.8h0M559.4 72.9h0M621.4 38.9h0M601.0 69.7h0M626.6 35.4h0M647.2 28.4h0M574.6 81.2h0M625.7 60.3h0M550.8 76.2h0M558.5 63.2h0M622.3 51.6h0M553.8 75.9h0M590.2 50.2h0M581.9 72.7h0M608.0 67.5h0M575.4 74.0h0M569.0 67.0h0M612.5 51.4h0M611.3 56.2h0M575.3 66.2h0M603.7 57.4h0M579.2 72.7h0M577.5 61.9h0M580.9 50.8h0M579.0 77.1h0M558.8 77.0h0M622.0 39.1h0M554.9 75.9h0M604.6 48.4h0M580.7 47.4h0M611.3 45.8h0M603.7 39.0h0M597.4 55.6h0M628.8 38.5h0M612.4 56.4h0M635.7 35.4h0M614.2 49.2h0M632.2 35.8h0M635.2 34.1h0M618.5 33.3h0M590.1 65.7h0M593.1 57.3h0M560.3 66.5h0M625.4 42.4h0M616.4 41.5h0M559.0 74.1h0M567.9 78.0h0M611.8 44.9h0M555.1 68.6h0M564.0 84.7h0M581.9 54.4h0M584.3 70.0h0M553.4 72.6h0M562.4 76.6h0M571.4 65.3h0M564.2 66.1h0M582.7 59.7h0M617.2 49.3h0M613.3 43.6h0M610.7 46.6h0M596.8 56.9h0M568.7 71.4h0M574.9 64.4h0M642.2 32.2h0M600.0 41.7h0M610.8 34.1h0M625.2 45.9h0M627.9 27.9h0M582.9 72.6h0M610.6 45.2h0M577.4 53.6h0M581.9 61.5h0M569.7 67.1h0M610.8 57.1h0M642.0 29.5h0M626.4 37.7h0M566.3 68.1h0M564.5 67.1h0M575.1 59.2h0M563.2 55.6h0M557.3 59.0h0M619.7 38.2h0M580.4 60.1h0M609.1 56.8h0M590.0 76.8h0M648.9 37.8h0M609.4 51.6h0M565.7 84.6h0M629.2 38.3h0M576.3 59.5h0M602.4 71.0h0M573.8 56.1h0M600.2 49.1h0M578.1 60.8h0M588.7 70.3h0M568.3 62.7h0M649.8 32.8h0M573.7 61.7h0M576.7 53.4h0M588.8 60.0h0M567.2 69.5h0M573.4 55.6h0M590.4 50.0h0M607.5 42.5h0M606.7 57.7h0M587.4 62.5h0M628.2 43.0h0M573.0 61.4h0M578.9 66.7h0M610.6 42.7h0M589.5 46.5h0M630.6 34.0h0M556.5 74.9h0M606.9 50.2h0M591.2 65.8h0M563.1 55.9h0M637.0 34.2h0M574.2 68.2h0M621.8 35.4h0M636.4 37.2h0M640.3 31.8h0M561.9 61.2h0M575.1 73.9h0M554.2 62.7h0M588.4 66.6h0M639.4 32.2h0M612.4 39.0h0M560.3 64.0h0M561.3 64.7h0M621.8 36.2h0M614.6 48.1h0M615.3 56.0h0M573.6 72.2h0M586.4 70.8h0M562.2 62.3h0M643.8 22.3h0M596.5 49.2h0M611.2 46.1h0M573.9 67.6h0M584.9 55.5h0M627.3 41.0h0M635.5 27.7h0M583.7 75.6h0M572.5 56.3h0M588.5 60.4h0M586.0 68.4h0M632.3 32.9h0M586.3 59.2h0M588.3 72.0h0M599.8 50.5h0M607.7 57.9h0M591.9 59.0h0M553.5 76.6h0M624.7 46.7h0M560.6 69.4h0M577.3 71.5h0M575.0 66.8h0M604.8 54.7h0M634.3 29.9h0M592.1 56.7h0M598.9 63.5h0M594.5 62.9h0M562.0 73.5h0M574.3 60.5h0M637.6 37.8h0M584.9 71.8h0M636.7 35.9h0M626.2 38.4h0M586.0 51.0h0M595.7 56.4h0M590.8 48.2h0M642.2 36.6h0M587.6 63.5h0M560.5 65.1h0M626.7 37.2h0M558.5 59.8h0M555.0 66.2h0M571.2 59.1h0M597.6 65.6h0M565.6 65.3h0M612.8 44.4h0M587.2 60.6h0M602.3 47.4h0M617.2 51.8h0M598.8 55.3h0M645.8 31.1h0M599.0 48.5h0M603.5 63.5h0M630.7 34.5h0M643.8 33.0h0M619.8 35.7h0M587.1 53.9h0M590.6 58.0h0M551.5 72.3h0M581.7 65.9h0M625.9 41.2h0M593.1 44.4h0M623.9 26.2h0M603.7 46.2h0M637.9 44.1h0M598.9 53.4h0M615.8 39.1h0M603.3 55.9h0M589.3 55.6h0M622.0 42.6h0M560.0 63.8h0M647.0 33.8h0M629.6 35.5h0M601.6 67.0h0M592.4 51.6h0M585.2 61.8h0M592.1 42.8h0M567.2 52.1h0M632.0 52.9h0M639.6 42.6h0M609.9 57.8h0M630.9 28.1h0M579.7 64.3h0M641.2 29.0h0M620.6 41.9h0M617.0 35.8h0M597.8 50.9h0M557.0 76.1h0M561.2 64.5h0M631.0 36.5h0M567.0 64.7h0M617.8 44.5h0M568.4 75.4h0M623.2 43.7h0M603.9 38.9h0M555.7 70.6h0M624.6 47.5h0M592.4 49.1h0M632.4 34.9h0M561.9 62.6h0M582.8 72.1h0M630.0 34.1h0M638.3 38.4h0M609.3 57.6h0M620.6 47.1h0M618.5 45.8h0M560.8 70.1h0M564.7 65.7h0M550.8 71.6h0M567.8 62.9h0M558.4 75.4h0M591.3 55.9h0M610.4 48.6h0M637.6 38.8h0M597.0 53.7h0M564.1 58.2h0M640.5 29.9h0M641.2 28.1h0M644.3 23.8h0M558.7 73.0h0M605.4 40.2h0M609.6 37.5h0M598.1 44.6h0M579.8 69.6h0M607.0 57.8h0M558.9 71.3h0M582.5 57.3h0M623.4 46.1h0M571.3 71.3h0M567.8 59.2h0M593.4 52.0h0M575.9 54.2h0M561.8 68.5h0M636.2 36.4h0M589.1 70.3h0M626.9 50.9h0M641.4 37.1h0M584.0 68.3h0M553.6 76.5h0M608.2 72.1h0M580.9 74.6h0M639.0 51.3h0M569.5 70.3h0M622.5 45.4h0M556.3 82.1h0M576.4 65.4h0M570.0 69.4h0M637.1 30.0h0M611.8 55.1h0M615.1 46.7h0M565.0 76.0h0M582.0 59.4h0M636.8 26.2h0M609.2 52.6h0M625.3 49.9h0M604.7 39.8h0M568.4 59.4h0M638.3 33.2h0M576.9 61.5h0M565.4 54.7h0M616.8 59.6h0M564.2 78.0h0M623.5 37.2h0M616.6 30.9h0M590.3 60.3h0M606.4 66.3h0M599.1 60.1h0M559.1 64.0h0M582.7 62.8h0M580.5 78.5h0M587.8 63.2h0M606.9 31.8h0M594.9 39.6h0M572.0 69.9h0M625.3 41.9h0M626.0 38.3h0M621.0 47.8h0M623.7 58.3h0M573.9 68.0h0M609.0 47.1h0M561.8 59.6h0M617.2 38.2h0M615.2 48.3h0M611.5 45.8h0M592.0 47.5h0M627.2 39.8h0M615.0 38.8h0M609.1 52.8h0M557.9 70.4h0M576.5 67.0h0M645.3 30.4h0M592.7 62.3h0M610.6 46.5h0M563.3 69.8h0M605.7 45.2h0M612.2 48.1h0M621.9 29.8h0M652.0 40.1h0M596.6 48.5h0M577.5 64.0h0M564.4 65.4h0M582.0 57.0h0M594.1 58.8h0M646.4 28.8h0M601.5 48.3h0M611.9 35.4h0M619.9 36.2h0M552.7 65.0h0M579.2 77.5h0M598.6 42.0h0M556.3 64.1h0M568.2 69.2h0M631.7 47.7h0M612.1 32.8h0M562.1 57.4h0M562.2 71.4h0M631.3 40.2h0M592.6 44.2h0M569.5 51.8h0M619.1 36.2h0M647.5 30.3h0M563.7 75.9h0M628.2 38.7h0M595.8 54.2h0M580.2 67.0h0M605.0 49.2h0M556.5 75.0h0M563.3 62.1h0M561.7 65.5h0M620.4 46.8h0M619.8 41.3h0M573.0 58.9h0M586.3 64.5h0M623.5 45.8h0M588.4 57.9h0M584.6 53.4h0M642.3 37.6h0M611.9 67.9h0M599.0 46.1h0M606.6 36.5h0M555.6 66.9h0M590.9 49.0h0M608.7 38.5h0M639.8 38.8h0M585.9 66.3h0M605.9 62.1h0M571.2 72.3h0M569.1 63.0h0M559.4 80.7h0M570.8 61.1h0M567.6 64.8h0M591.5 46.6h0M597.6 63.9h0M623.6 38.1h0M603.6 48.2h0M618.1 44.3h0M597.1 55.5h0M584.4 66.9h0M597.2 54.3h0M616.7 48.0h0M639.3 26.7h0M627.5 37.6h0M616.8 59.5h0M564.4 80.9h0M617.2 50.4h0M638.0 41.4h0M628.5 54.4h0M570.2 74.4h0M585.0 46.1h0M571.2 64.3h0M611.8 27.8h0M623.7 35.5h0M615.0 35.3h0M582.3 60.7h0M611.7 50.2h0M567.9 59.7h0M638.0 33.3h0M552.2 73.6h0M599.5 51.2h0M613.4 27.2h0M572.9 61.5h0M559.2 78.2h0M555.3 75.6h0M615.6 33.3h0M551.5 72.9h0M588.0 60.3h0M621.4 35.2h0M557.9 77.9h0M619.9 37.0h0M593.8 52.5h0M594.2 54.2h0M605.1 68.7h0M579.9 59.1h0M621.0 48.3h0M584.5 55.7h0M559.8 72.9h0M593.3 36.6h0M634.5 36.3h0M553.3 63.5h0M588.4 69.3h0M593.0 53.7h0M586.7 57.0h0M558.7 60.8h0M563.5 55.9h0M599.5 47.8h0M609.3 35.2h0M626.5 43.6h0M616.6 51.8h0M614.0 40.4h0M572.4 62.0h0M576.8 54.4h0M577.2 64.5h0M589.1 59.0h0M591.1 53.0h0M581.8 61.6h0M638.3 45.0h0M609.4 54.0h0M577.9 60.7h0M589.9 48.2h0M642.8 39.3h0M612.3 49.9h0M619.4 44.4h0M620.7 45.5h0M609.7 38.9h0M567.3 82.6h0M598.9 60.4h0M565.3 76.8h0M560.2 81.9h0M557.9 70.5h0M561.4 75.4h0M567.6 64.8h0M630.3 42.6h0M602.3 49.1h0M630.2 56.7h0M603.9 47.5h0M587.1 62.7h0M625.2 44.0h0M568.4 64.4h0M592.3 63.8h0M594.0 54.5h0M615.5 41.6h0M626.5 40.0h0M606.1 43.2h0M618.7 53.6h0M583.9 65.2h0M612.2 54.8h0M629.7 30.1h0M595.2 56.9h0M622.3 36.3h0M599.5 53.3h0M607.1 59.7h0M609.1 50.2h0M562.5 68.5h0M577.0 72.6h0M570.4 74.8h0M608.4 63.9h0M604.5 34.6h0M570.4 62.8h0M580.6 54.1h0M567.3 68.7h0M611.3 37.3h0M583.1 41.6h0M580.2 54.1h0M571.3 63.6h0M648.8 38.4h0M600.4 46.1h0M643.3 27.0h0M576.4 46.8h0M569.2 63.9h0M622.5 40.0h0M638.8 35.2h0M559.9 59.0h0M636.3 31.3h0M603.1 31.8h0M584.3 36.7h0M575.1 68.3h0M594.0 58.1h0M594.7 57.8h0M569.6 57.9h0M602.0 60.4h0M621.1 34.7h0M570.2 82.4h0M598.8 54.8h0M592.4 40.4h0M571.3 73.1h0M623.4 57.9h0M578.2 60.5h0M609.5 56.8h0M605.6 48.0h0M621.3 37.6h0M636.5 22.2h0M600.8 48.2h0M576.5 66.6h0M571.7 56.1h0M617.9 36.8h0M630.5 35.7h0M624.8 37.9h0M605.8 39.0h0M639.6 35.2h0M615.4 51.7h0M606.7 45.3h0M634.7 35.2h0M611.0 36.9h0M630.8 47.9h0M639.1 31.0h0M587.1 57.1h0M577.2 61.2h0M595.7 41.3h0M642.2 31.1h0M642.8 42.4h0M628.5 40.7h0M616.2 55.8h0M573.3 58.6h0M563.8 81.5h0M631.9 43.4h0M627.6 42.8h0M616.9 26.8h0M603.3 52.5h0M617.1 56.1h0M619.0 41.3h0M609.8 67.3h0M611.6 47.6h0M567.6 59.1h0M602.8 56.2h0M615.8 47.5h0M610.1 54.7h0M574.9 62.4h0M567.5 78.8h0M613.5 41.4h0M561.2 71.8h0M623.9 32.5h0M562.2 63.5h0M628.2 40.8h0M586.3 53.4h0M574.0 63.0h0M568.7 69.3h0M628.7 44.6h0M585.2 68.1h0M595.0 56.6h0M615.4 40.7h0M577.7 49.5h0M590.0 54.3h0M605.7 43.1h0M575.4 48.7h0M567.3 81.8h0M560.0 74.3h0M646.6 33.5h0M628.7 37.5h0M603.4 72.9h0M634.0 36.8h0M550.4 69.3h0M613.4 61.1h0M585.1 52.7h0M572.3 53.3h0M635.9 30.1h0M555.2 68.1h0M633.9 37.0h0M562.7 72.9h0M612.3 33.8h0M583.1 63.4h0M610.1 66.7h0M638.7 30.7h0M629.3 38.0h0M565.6 74.6h0M585.7 69.5h0M595.2 49.1h0M615.4 37.3h0M635.9 42.7h0M635.3 41.8h0M564.0 51.2h0M568.2 56.9h0M628.4 29.6h0M606.6 52.9h0M579.2 64.2h0M576.3 70.4h0M616.1 46.0h0M625.4 49.9h0M582.2 53.3h0M635.2 28.3h0M597.2 54.1h0M598.1 61.4h0M584.8 45.8h0M596.5 61.8h0M586.7 66.1h0M631.0 34.8h0M593.5 57.0h0M573.8 62.5h0M591.7 57.1h0M641.7 37.5h0M610.1 40.9h0M559.0 80.7h0M595.4 62.1h0M599.1 60.6h0M641.1 37.2h0M560.1 66.3h0M603.4 45.0h0M578.1 56.3h0M564.8 57.6h0M575.9 61.4h0M553.4 68.3h0M621.7 37.4h0M593.3 59.7h0M600.2 33.4h0M594.4 76.5h0M558.9 60.2h0M613.5 51.1h0M624.3 48.3h0M629.5 38.7h0M563.3 76.1h0M551.2 74.5h0M611.6 50.0h0M566.0 78.3h0M617.1 39.9h0M611.0 42.2h0M607.6 51.7h0M621.3 45.0h0M563.1 79.3h0M641.7 36.2h0M639.5 24.2h0M631.8 54.1h0M578.4 63.1h0M610.7 44.5h0M617.5 43.0h0M615.9 45.5h0M580.0 75.4h0M632.1 48.3h0M615.4 50.5h0M583.8 77.1h0M582.6 57.3h0M566.8 72.6h0M588.0 54.3h0M582.3 61.2h0M588.6 66.3h0M632.1 49.9h0M553.2 56.8h0M571.4 84.6h0M625.4 43.1h0M566.2 65.7h0M605.9 33.4h0M595.6 34.9h0M559.3 72.5h0M579.4 60.8h0M615.6 60.9h0M645.0 30.2h0M620.0 52.4h0M624.8 50.3h0M614.6 63.4h0M587.4 56.4h0M611.6 53.7h0M593.6 46.1h0M623.3 39.6h0M572.3 65.4h0M617.8 40.8h0M568.9 73.3h0M575.1 63.0h0M640.4 29.2h0M589.1 69.6h0M613.2 61.7h0M642.2 34.1h0M626.4 39.4h0M605.6 64.3h0M568.6 71.5h0M610.4 42.0h0M602.6 39.8h0M555.1 68.7h0M598.9 72.0h0M639.2 31.2h0M606.7 74.3h0M570.5 66.5h0M605.1 48.4h0M600.4 63.8h0M596.3 57.6h0M551.1 66.7h0M562.3 59.7h0M571.5 59.7h0M642.4 34.1h0M589.3 52.0h0M582.4 44.0h0M568.8 65.9h0M614.1 43.6h0M641.2 30.3h0M634.8 24.0h0M571.8 79.6h0M592.1 52.2h0M576.7 68.2h0M621.0 54.8h0M575.0 74.1h0M568.6 69.2h0M582.7 60.9h0M569.7 69.6h0M623.2 49.2h0M580.9 66.7h0M590.1 53.5h0M583.4 64.4h0M590.4 60.5h0M582.1 67.1h0M585.3 61.3h0M576.2 65.6h0M618.9 51.4h0M579.7 62.6h0M561.1 66.1h0M559.9 63.4h0M638.3 34.0h0M560.9 75.7h0M582.7 71.7h0M630.9 37.7h0M552.4 70.6h0M570.2 62.3h0M578.7 73.8h0M633.1 37.9h0M557.8 68.2h0M643.1 36.5h0M554.9 62.5h0M605.4 51.1h0M624.7 40.8h0M606.5 48.4h0M600.3 42.6h0M596.5 62.8h0M579.3 76.9h0M591.9 57.5h0M616.9 50.3h0M616.8 64.2h0M647.4 28.8h0M574.8 56.4h0M568.5 67.5h0M644.4 43.0h0M598.5 54.0h0M617.4 59.8h0M621.2 27.3h0M626.8 26.0h0M622.8 49.4h0M554.9 80.6h0M553.2 79.2h0M636.5 35.9h0M554.2 76.1h0M621.3 36.5h0M612.9 42.7h0M552.5 67.5h0M624.5 41.6h0M601.7 49.9h0M565.7 83.3h0M635.9 39.9h0M607.7 35.5h0M595.2 58.5h0M644.5 39.5h0M569.2 69.6h0M571.0 75.7h0M638.3 34.6h0M563.9 75.7h0M619.7 36.1h0M576.3 70.6h0M593.6 66.8h0M608.6 35.6h0M605.7 31.8h0M585.8 64.0h0M600.5 51.0h0M617.5 45.4h0M564.5 73.1h0M631.2 32.5h0M571.8 67.8h0M571.3 69.2h0M589.4 61.9h0M600.4 46.1h0M577.6 63.8h0M629.8 42.7h0M564.6 65.5h0M616.1 35.3h0M564.3 78.7h0M608.4 46.4h0M613.9 51.4h0M647.4 27.5h0M581.7 65.1h0M594.0 49.7h0M640.6 29.4h0M566.4 69.5h0M637.0 35.8h0M594.7 67.9h0M580.3 48.0h0M651.3 30.9h0M595.9 68.5h0M581.9 72.9h0M568.4 64.2h0M615.2 39.7h0M607.7 44.8h0M574.9 67.1h0M599.4 54.6h0M582.7 63.8h0M630.4 42.7h0M591.4 47.5h0M606.8 39.8h0M640.5 27.6h0M573.1 53.8h0M636.1 35.3h0M598.7 56.0h0M625.6 62.4h0M573.1 69.9h0M620.6 43.2h0M623.3 53.6h0M604.9 44.1h0M636.0 38.0h0M595.2 63.3h0M556.4 80.0h0M638.6 37.0h0M603.1 48.2h0M608.6 38.0h0M618.3 42.8h0M554.7 68.9h0M583.2 66.5h0M559.8 70.4h0M614.0 50.9h0M630.7 28.4h0M622.4 50.2h0M580.9 48.2h0M595.9 49.2h0M567.2 77.8h0M585.0 65.9h0M572.3 55.6h0M570.1 67.5h0M614.4 45.0h0M600.8 38.8h0M627.5 33.1h0M642.9 23.3h0M568.4 60.1h0M624.8 35.3h0M605.5 42.1h0M596.3 47.3h0M569.3 64.1h0M583.9 62.3h0" stroke="#ea887a" stroke-width="1.25" stroke-linecap="round" fill="none"/>
<path d="M654.6 32.4h0M655.5 43.3h0M656.9 34.7h0M670.4 34.0h0M670.8 31.0h0M655.9 31.4h0M664.3 40.4h0M662.8 36.1h0M656.1 32.6h0M650.2 34.5h0M658.5 25.0h0M655.5 31.8h0M657.8 30.2h0M659.9 31.9h0M652.3 31.7h0M664.8 31.9h0M656.7 31.7h0M653.7 23.9h0M653.6 30.6h0M657.3 26.4h0M657.7 24.0h0M653.7 32.1h0M661.1 35.7h0M652.1 27.5h0M646.8 24.6h0M654.8 32.1h0M666.1 46.0h0M657.4 28.3h0M661.6 31.6h0M652.8 31.5h0M657.3 37.1h0M660.2 39.3h0M658.7 30.3h0M658.9 38.4h0M650.1 28.7h0M650.7 36.3h0M658.4 23.7h0M661.4 31.2h0M652.4 30.5h0M663.2 30.6h0M653.7 26.8h0M659.0 32.6h0M662.0 30.4h0M653.3 30.3h0M651.5 29.8h0M646.7 29.7h0M656.9 29.7h0M659.4 33.4h0M659.8 30.0h0M659.4 31.9h0M660.0 38.4h0M660.5 28.5h0M653.1 35.7h0M660.1 35.7h0M659.9 33.9h0" stroke="#ea887a" stroke-width="1.1" stroke-linecap="round" fill="none"/>
<ellipse cx="590.1" cy="57.9" rx="68.6" ry="23.1" transform="rotate(-25.2 590.1 57.9)" fill="none" stroke="#f06a5b" stroke-width="0.85"/>
<ellipse cx="631.3" cy="86.3" rx="53.5" ry="21.5" transform="rotate(-33.7 631.3 86.3)" fill="none" stroke="#aba6dd" stroke-width="0.75"/>
<path d="M520.5 15.5H684.1V126.2" fill="none" stroke="#333" stroke-width="1"/>
<line x1="520.5" y1="15" x2="520.5" y2="126.7" stroke="#222" stroke-width="1.1"/>
<line x1="520" y1="126.2" x2="684.6" y2="126.2" stroke="#222" stroke-width="1.1"/>
<line x1="518" y1="38.099999999999994" x2="520" y2="38.099999999999994" stroke="#333" stroke-width="0.8"/>
<text x="518.6" y="41.39999999999999" font-size="7.0" fill="#4d4d4d" text-anchor="end">0.25</text>
<line x1="518" y1="67.8" x2="520" y2="67.8" stroke="#333" stroke-width="0.8"/>
<text x="518.6" y="71.1" font-size="7.0" fill="#4d4d4d" text-anchor="end">0.00</text>
<line x1="518" y1="97.5" x2="520" y2="97.5" stroke="#333" stroke-width="0.8"/>
<text x="518.6" y="100.8" font-size="7.0" fill="#4d4d4d" text-anchor="end">-0.25</text>
<line x1="526.3" y1="126.5" x2="526.3" y2="128.3" stroke="#333" stroke-width="0.8"/>
<text x="526.3" y="134.3" font-size="6.9" fill="#4d4d4d" text-anchor="middle">-0.50</text>
<line x1="567.85" y1="126.5" x2="567.85" y2="128.3" stroke="#333" stroke-width="0.8"/>
<text x="567.85" y="134.3" font-size="6.9" fill="#4d4d4d" text-anchor="middle">-0.25</text>
<line x1="609.4" y1="126.5" x2="609.4" y2="128.3" stroke="#333" stroke-width="0.8"/>
<text x="609.4" y="134.3" font-size="6.9" fill="#4d4d4d" text-anchor="middle">0.00</text>
<line x1="650.9499999999999" y1="126.5" x2="650.9499999999999" y2="128.3" stroke="#333" stroke-width="0.8"/>
<text x="650.9499999999999" y="134.3" font-size="6.9" fill="#4d4d4d" text-anchor="middle">0.25</text>
<text x="595.00" y="142.80" font-size="7.9" fill="#000" textLength="20.69" lengthAdjust="spacingAndGlyphs">PCoA1</text>
<text x="505.20" y="76.50" font-size="7.9" fill="#000" textLength="21.69" lengthAdjust="spacingAndGlyphs" transform="rotate(-90 505.20 76.50)">PCoA2</text>
<line x1="483.3" y1="46.9" x2="483.3" y2="104.7" stroke="#333" stroke-width="0.8"/>
<rect x="480.00" y="74.30" width="6.60" height="20.00" fill="#b2acd8" stroke="#333" stroke-width="0.8"/>
<line x1="480.0" y1="85.5" x2="486.6" y2="85.5" stroke="#333" stroke-width="1.2800000000000002"/>
<line x1="490.6" y1="30.0" x2="490.6" y2="96.0" stroke="#333" stroke-width="0.8"/>
<rect x="487.35" y="49.90" width="6.50" height="22.40" fill="#ee7766" stroke="#333" stroke-width="0.8"/>
<line x1="487.35" y1="61.0" x2="493.85" y2="61.0" stroke="#333" stroke-width="1.2800000000000002"/>
<path d="M483.5 28.9V25.7H490.5V28.9" fill="none" stroke="#111" stroke-width="0.85"/>
<text x="472.90" y="22.00" font-size="5.7" fill="#111" textLength="28.49" lengthAdjust="spacingAndGlyphs">p &lt; 2.22e-16</text>
<line x1="554.8" y1="150.6" x2="656.8" y2="150.6" stroke="#333" stroke-width="0.8"/>
<rect x="574.60" y="147.35" width="37.20" height="6.50" fill="#ee7766" stroke="#333" stroke-width="0.8"/>
<line x1="591.0" y1="147.35" x2="591.0" y2="153.85" stroke="#333" stroke-width="1.2800000000000002"/>
<line x1="589.0" y1="159.4" x2="663.8" y2="159.4" stroke="#333" stroke-width="0.8"/>
<rect x="613.20" y="156.25" width="26.10" height="6.30" fill="#b2acd8" stroke="#333" stroke-width="0.8"/>
<line x1="625.8" y1="156.25" x2="625.8" y2="162.55" stroke="#333" stroke-width="1.2800000000000002"/>
<path d="M552.9 150.6H549.6V159.2H552.9" fill="none" stroke="#111" stroke-width="0.8"/>
<text x="517.70" y="157.10" font-size="5.7" fill="#111" textLength="28.39" lengthAdjust="spacingAndGlyphs">p &lt; 2.22e-16</text>
<line x1="104.5" y1="210" x2="104.5" y2="417.5" stroke="#e4e4e4" stroke-width="1.1"/>
<line x1="183.6" y1="210" x2="183.6" y2="417.5" stroke="#e4e4e4" stroke-width="1.1"/>
<line x1="262.6" y1="210" x2="262.6" y2="417.5" stroke="#e4e4e4" stroke-width="1.1"/>
<line x1="341.7" y1="210" x2="341.7" y2="417.5" stroke="#e4e4e4" stroke-width="1.1"/>
<line x1="420.4" y1="210" x2="420.4" y2="417.5" stroke="#e4e4e4" stroke-width="1.1"/>
<line x1="41.3" y1="277.7" x2="41.3" y2="279.0" stroke="#5e5e5e" stroke-width="0.75"/>
<line x1="37.099999999999994" y1="277.7" x2="45.5" y2="277.7" stroke="#5e5e5e" stroke-width="0.75"/>
<line x1="41.3" y1="281.6" x2="41.3" y2="283.3" stroke="#5e5e5e" stroke-width="0.75"/>
<line x1="37.099999999999994" y1="283.3" x2="45.5" y2="283.3" stroke="#5e5e5e" stroke-width="0.75"/>
<rect x="33.40" y="279.00" width="15.80" height="2.60" fill="#8dcdc3" stroke="#555" stroke-width="0.7"/>
<line x1="33.4" y1="279.6" x2="49.199999999999996" y2="279.6" stroke="#555" stroke-width="0.8"/>
<line x1="57.1" y1="366.7" x2="57.1" y2="377.4" stroke="#5e5e5e" stroke-width="0.75"/>
<line x1="52.9" y1="366.7" x2="61.300000000000004" y2="366.7" stroke="#5e5e5e" stroke-width="0.75"/>
<line x1="57.1" y1="381.3" x2="57.1" y2="381.6" stroke="#5e5e5e" stroke-width="0.75"/>
<line x1="52.9" y1="381.6" x2="61.300000000000004" y2="381.6" stroke="#5e5e5e" stroke-width="0.75"/>
<rect x="49.20" y="377.40" width="15.80" height="3.90" fill="#8aadd1" stroke="#555" stroke-width="0.7"/>
<line x1="49.2" y1="380.4" x2="65.0" y2="380.4" stroke="#555" stroke-width="0.8"/>
<line x1="72.9" y1="287.4" x2="72.9" y2="288.7" stroke="#5e5e5e" stroke-width="0.75"/>
<line x1="68.7" y1="287.4" x2="77.10000000000001" y2="287.4" stroke="#5e5e5e" stroke-width="0.75"/>
<line x1="72.9" y1="291.9" x2="72.9" y2="292.7" stroke="#5e5e5e" stroke-width="0.75"/>
<line x1="68.7" y1="292.7" x2="77.10000000000001" y2="292.7" stroke="#5e5e5e" stroke-width="0.75"/>
<rect x="65.00" y="288.70" width="15.80" height="3.20" fill="#ec8479" stroke="#555" stroke-width="0.7"/>
<line x1="65.0" y1="290.2" x2="80.80000000000001" y2="290.2" stroke="#555" stroke-width="0.8"/>
<line x1="88.7" y1="279.4" x2="88.7" y2="280.0" stroke="#5e5e5e" stroke-width="0.75"/>
<line x1="84.5" y1="279.4" x2="92.9" y2="279.4" stroke="#5e5e5e" stroke-width="0.75"/>
<line x1="88.7" y1="283.3" x2="88.7" y2="285.5" stroke="#5e5e5e" stroke-width="0.75"/>
<line x1="84.5" y1="285.5" x2="92.9" y2="285.5" stroke="#5e5e5e" stroke-width="0.75"/>
<rect x="80.80" y="280.00" width="15.80" height="3.30" fill="#f5c389" stroke="#555" stroke-width="0.7"/>
<line x1="80.8" y1="280.3" x2="96.60000000000001" y2="280.3" stroke="#555" stroke-width="0.8"/>
<line x1="120.33" y1="341.4" x2="120.33" y2="343.2" stroke="#5e5e5e" stroke-width="0.75"/>
<line x1="116.13" y1="341.4" x2="124.53" y2="341.4" stroke="#5e5e5e" stroke-width="0.75"/>
<line x1="120.33" y1="346.8" x2="120.33" y2="349.9" stroke="#5e5e5e" stroke-width="0.75"/>
<line x1="116.13" y1="349.9" x2="124.53" y2="349.9" stroke="#5e5e5e" stroke-width="0.75"/>
<rect x="112.43" y="343.20" width="15.80" height="3.60" fill="#8dcdc3" stroke="#555" stroke-width="0.7"/>
<line x1="112.42999999999999" y1="344.8" x2="128.23" y2="344.8" stroke="#555" stroke-width="0.8"/>
<line x1="136.13" y1="373.8" x2="136.13" y2="389.1" stroke="#5e5e5e" stroke-width="0.75"/>
<line x1="131.93" y1="373.8" x2="140.32999999999998" y2="373.8" stroke="#5e5e5e" stroke-width="0.75"/>
<line x1="136.13" y1="402.2" x2="136.13" y2="405.9" stroke="#5e5e5e" stroke-width="0.75"/>
<line x1="131.93" y1="405.9" x2="140.32999999999998" y2="405.9" stroke="#5e5e5e" stroke-width="0.75"/>
<rect x="128.23" y="389.10" width="15.80" height="13.10" fill="#8aadd1" stroke="#555" stroke-width="0.7"/>
<line x1="128.23" y1="399.3" x2="144.03" y2="399.3" stroke="#555" stroke-width="0.8"/>
<line x1="151.93" y1="361.3" x2="151.93" y2="362.0" stroke="#5e5e5e" stroke-width="0.75"/>
<line x1="147.73000000000002" y1="361.3" x2="156.13" y2="361.3" stroke="#5e5e5e" stroke-width="0.75"/>
<line x1="151.93" y1="369.4" x2="151.93" y2="376.5" stroke="#5e5e5e" stroke-width="0.75"/>
<line x1="147.73000000000002" y1="376.5" x2="156.13" y2="376.5" stroke="#5e5e5e" stroke-width="0.75"/>
<rect x="144.03" y="362.00" width="15.80" height="7.40" fill="#ec8479" stroke="#555" stroke-width="0.7"/>
<line x1="144.03" y1="364.2" x2="159.83" y2="364.2" stroke="#555" stroke-width="0.8"/>
<line x1="167.73" y1="358.4" x2="167.73" y2="369.3" stroke="#5e5e5e" stroke-width="0.75"/>
<line x1="163.53" y1="369.3" x2="171.92999999999998" y2="369.3" stroke="#5e5e5e" stroke-width="0.75"/>
<rect x="159.83" y="349.00" width="15.80" height="9.40" fill="#f5c389" stroke="#555" stroke-width="0.7"/>
<line x1="159.82999999999998" y1="354.0" x2="175.63" y2="354.0" stroke="#555" stroke-width="0.8"/>
<line x1="199.36" y1="378.9" x2="199.36" y2="380.3" stroke="#5e5e5e" stroke-width="0.75"/>
<line x1="195.16000000000003" y1="378.9" x2="203.56" y2="378.9" stroke="#5e5e5e" stroke-width="0.75"/>
<line x1="199.36" y1="390.1" x2="199.36" y2="391.2" stroke="#5e5e5e" stroke-width="0.75"/>
<line x1="195.16000000000003" y1="391.2" x2="203.56" y2="391.2" stroke="#5e5e5e" stroke-width="0.75"/>
<rect x="191.46" y="380.30" width="15.80" height="9.80" fill="#8dcdc3" stroke="#555" stroke-width="0.7"/>
<line x1="191.46" y1="384.6" x2="207.26000000000002" y2="384.6" stroke="#555" stroke-width="0.8"/>
<line x1="215.16" y1="358.4" x2="215.16" y2="365.3" stroke="#5e5e5e" stroke-width="0.75"/>
<line x1="210.96" y1="358.4" x2="219.35999999999999" y2="358.4" stroke="#5e5e5e" stroke-width="0.75"/>
<line x1="215.16" y1="378.3" x2="215.16" y2="409.0" stroke="#5e5e5e" stroke-width="0.75"/>
<line x1="210.96" y1="409.0" x2="219.35999999999999" y2="409.0" stroke="#5e5e5e" stroke-width="0.75"/>
<rect x="207.26" y="365.30" width="15.80" height="13.00" fill="#8aadd1" stroke="#555" stroke-width="0.7"/>
<line x1="207.26" y1="371.2" x2="223.06" y2="371.2" stroke="#555" stroke-width="0.8"/>
<line x1="223.06" y1="400.0" x2="238.86" y2="400.0" stroke="#555" stroke-width="1.1"/>
<line x1="246.76" y1="381.0" x2="246.76" y2="383.0" stroke="#5e5e5e" stroke-width="0.75"/>
<line x1="242.56" y1="381.0" x2="250.95999999999998" y2="381.0" stroke="#5e5e5e" stroke-width="0.75"/>
<line x1="246.76" y1="386.6" x2="246.76" y2="388.3" stroke="#5e5e5e" stroke-width="0.75"/>
<line x1="242.56" y1="388.3" x2="250.95999999999998" y2="388.3" stroke="#5e5e5e" stroke-width="0.75"/>
<rect x="238.86" y="383.00" width="15.80" height="3.60" fill="#f5c389" stroke="#555" stroke-width="0.7"/>
<line x1="238.85999999999999" y1="384.3" x2="254.66" y2="384.3" stroke="#555" stroke-width="0.8"/>
<line x1="278.39000000000004" y1="342.6" x2="278.39000000000004" y2="360.2" stroke="#5e5e5e" stroke-width="0.75"/>
<line x1="274.19000000000005" y1="342.6" x2="282.59000000000003" y2="342.6" stroke="#5e5e5e" stroke-width="0.75"/>
<line x1="278.39000000000004" y1="364.3" x2="278.39000000000004" y2="369.2" stroke="#5e5e5e" stroke-width="0.75"/>
<line x1="274.19000000000005" y1="369.2" x2="282.59000000000003" y2="369.2" stroke="#5e5e5e" stroke-width="0.75"/>
<rect x="270.49" y="360.20" width="15.80" height="4.10" fill="#8dcdc3" stroke="#555" stroke-width="0.7"/>
<line x1="270.49000000000007" y1="361.3" x2="286.29" y2="361.3" stroke="#555" stroke-width="0.8"/>
<line x1="294.19000000000005" y1="351.7" x2="294.19000000000005" y2="355.8" stroke="#5e5e5e" stroke-width="0.75"/>
<line x1="289.99000000000007" y1="351.7" x2="298.39000000000004" y2="351.7" stroke="#5e5e5e" stroke-width="0.75"/>
<line x1="294.19000000000005" y1="369.4" x2="294.19000000000005" y2="371.2" stroke="#5e5e5e" stroke-width="0.75"/>
<line x1="289.99000000000007" y1="371.2" x2="298.39000000000004" y2="371.2" stroke="#5e5e5e" stroke-width="0.75"/>
<rect x="286.29" y="355.80" width="15.80" height="13.60" fill="#8aadd1" stroke="#555" stroke-width="0.7"/>
<line x1="286.2900000000001" y1="366.7" x2="302.09000000000003" y2="366.7" stroke="#555" stroke-width="0.8"/>
<line x1="309.99" y1="343.5" x2="309.99" y2="345.3" stroke="#5e5e5e" stroke-width="0.75"/>
<line x1="305.79" y1="343.5" x2="314.19" y2="343.5" stroke="#5e5e5e" stroke-width="0.75"/>
<rect x="302.09" y="345.30" width="15.80" height="11.20" fill="#ec8479" stroke="#555" stroke-width="0.7"/>
<line x1="302.09000000000003" y1="356.2" x2="317.89" y2="356.2" stroke="#555" stroke-width="0.8"/>
<line x1="325.79" y1="335.2" x2="325.79" y2="341.1" stroke="#5e5e5e" stroke-width="0.75"/>
<line x1="321.59000000000003" y1="335.2" x2="329.99" y2="335.2" stroke="#5e5e5e" stroke-width="0.75"/>
<line x1="325.79" y1="356.5" x2="325.79" y2="358.4" stroke="#5e5e5e" stroke-width="0.75"/>
<line x1="321.59000000000003" y1="358.4" x2="329.99" y2="358.4" stroke="#5e5e5e" stroke-width="0.75"/>
<rect x="317.89" y="341.10" width="15.80" height="15.40" fill="#f5c389" stroke="#555" stroke-width="0.7"/>
<line x1="317.89000000000004" y1="347.3" x2="333.69" y2="347.3" stroke="#555" stroke-width="0.8"/>
<line x1="357.42" y1="242.0" x2="357.42" y2="244.0" stroke="#5e5e5e" stroke-width="0.75"/>
<line x1="353.22" y1="242.0" x2="361.62" y2="242.0" stroke="#5e5e5e" stroke-width="0.75"/>
<line x1="357.42" y1="249.4" x2="357.42" y2="261.6" stroke="#5e5e5e" stroke-width="0.75"/>
<line x1="353.22" y1="261.6" x2="361.62" y2="261.6" stroke="#5e5e5e" stroke-width="0.75"/>
<rect x="349.52" y="244.00" width="15.80" height="5.40" fill="#8dcdc3" stroke="#555" stroke-width="0.7"/>
<line x1="349.52000000000004" y1="246.7" x2="365.32" y2="246.7" stroke="#555" stroke-width="0.8"/>
<line x1="373.22" y1="219.4" x2="373.22" y2="224.4" stroke="#5e5e5e" stroke-width="0.75"/>
<line x1="369.02000000000004" y1="219.4" x2="377.42" y2="219.4" stroke="#5e5e5e" stroke-width="0.75"/>
<line x1="373.22" y1="234.4" x2="373.22" y2="244.4" stroke="#5e5e5e" stroke-width="0.75"/>
<line x1="369.02000000000004" y1="244.4" x2="377.42" y2="244.4" stroke="#5e5e5e" stroke-width="0.75"/>
<rect x="365.32" y="224.40" width="15.80" height="10.00" fill="#8aadd1" stroke="#555" stroke-width="0.7"/>
<line x1="365.32000000000005" y1="232.6" x2="381.12" y2="232.6" stroke="#555" stroke-width="0.8"/>
<line x1="381.12" y1="252.0" x2="396.91999999999996" y2="252.0" stroke="#555" stroke-width="1.1"/>
<line x1="404.82" y1="235.7" x2="404.82" y2="239.3" stroke="#5e5e5e" stroke-width="0.75"/>
<line x1="400.62" y1="235.7" x2="409.02" y2="235.7" stroke="#5e5e5e" stroke-width="0.75"/>
<line x1="404.82" y1="247.1" x2="404.82" y2="252.0" stroke="#5e5e5e" stroke-width="0.75"/>
<line x1="400.62" y1="252.0" x2="409.02" y2="252.0" stroke="#5e5e5e" stroke-width="0.75"/>
<rect x="396.92" y="239.30" width="15.80" height="7.80" fill="#f5c389" stroke="#555" stroke-width="0.7"/>
<line x1="396.92" y1="241.6" x2="412.71999999999997" y2="241.6" stroke="#555" stroke-width="0.8"/>
<circle cx="231.2" cy="385.6" r="0.85" fill="#333"/>
<circle cx="231.2" cy="406.4" r="0.85" fill="#333"/>
<circle cx="389.0" cy="247.1" r="0.85" fill="#333"/>
<circle cx="389.0" cy="264.3" r="0.85" fill="#333"/>
<line x1="25.55" y1="209.9" x2="25.55" y2="418.7" stroke="#1e1e1e" stroke-width="1.1"/>
<line x1="25.3" y1="418.2" x2="421.4" y2="418.2" stroke="#222" stroke-width="1.1"/>
<line x1="23.8" y1="235.5" x2="25.3" y2="235.5" stroke="#333" stroke-width="0.8"/>
<text x="22.6" y="237.9" font-size="6.7" fill="#444" text-anchor="end">0.9</text>
<line x1="23.8" y1="273.6" x2="25.3" y2="273.6" stroke="#333" stroke-width="0.8"/>
<text x="22.6" y="276.0" font-size="6.7" fill="#444" text-anchor="end">0.8</text>
<line x1="23.8" y1="311.70000000000005" x2="25.3" y2="311.70000000000005" stroke="#333" stroke-width="0.8"/>
<text x="22.6" y="314.1" font-size="6.7" fill="#444" text-anchor="end">0.7</text>
<line x1="23.8" y1="349.8" x2="25.3" y2="349.8" stroke="#333" stroke-width="0.8"/>
<text x="22.6" y="352.2" font-size="6.7" fill="#444" text-anchor="end">0.6</text>
<line x1="23.8" y1="387.9" x2="25.3" y2="387.9" stroke="#333" stroke-width="0.8"/>
<text x="22.6" y="390.29999999999995" font-size="6.7" fill="#444" text-anchor="end">0.5</text>
<line x1="65.0" y1="418.5" x2="65.0" y2="420.3" stroke="#333" stroke-width="0.8"/>
<line x1="144.03" y1="418.5" x2="144.03" y2="420.3" stroke="#333" stroke-width="0.8"/>
<line x1="223.06" y1="418.5" x2="223.06" y2="420.3" stroke="#333" stroke-width="0.8"/>
<line x1="302.09000000000003" y1="418.5" x2="302.09000000000003" y2="420.3" stroke="#333" stroke-width="0.8"/>
<line x1="381.12" y1="418.5" x2="381.12" y2="420.3" stroke="#333" stroke-width="0.8"/>
<text x="10.00" y="320.10" font-size="7.3" fill="#333" textLength="14.41" lengthAdjust="spacingAndGlyphs" transform="rotate(-90 10.00 320.10)">AUC</text>
<text x="65.0" y="428.0" font-size="6.0" fill="#b3a637" text-anchor="middle">Dental</text>
<text x="65.0" y="434.9" font-size="6.0" fill="#b3a637" text-anchor="middle">Calculus</text>
<text x="144.03" y="428.0" font-size="6.0" fill="#b3a637" text-anchor="middle">Dental</text>
<text x="144.03" y="434.9" font-size="6.0" fill="#b3a637" text-anchor="middle">Caries</text>
<text x="223.06" y="428.0" font-size="6.0" fill="#b3a637" text-anchor="middle">Dental</text>
<text x="223.06" y="434.9" font-size="6.0" fill="#b3a637" text-anchor="middle">Ulcer</text>
<text x="302.09000000000003" y="428.0" font-size="6.0" fill="#d8404a" text-anchor="middle">Obesity</text>
<text x="381.12" y="428.0" font-size="6.0" fill="#d8404a" text-anchor="middle">Rheumatoid</text>
<text x="381.12" y="434.9" font-size="6.0" fill="#d8404a" text-anchor="middle">Arthritis</text>
<rect x="26.60" y="438.80" width="230.30" height="4.00" fill="#a09400"/>
<rect x="270.00" y="438.80" width="148.30" height="4.00" fill="#d7313a"/>
<rect x="431.3" y="219.9" width="45.2" height="40.4" fill="#fff" stroke="#d4d4d4" stroke-width="0.8"/>
<text x="454.4" y="228.2" font-size="6.9" fill="#111" text-anchor="middle" font-weight="bold">Feature</text>
<rect x="433.60" y="230.60" width="9.80" height="3.60" fill="#8dcdc3" stroke="#555" stroke-width="0.8"/>
<text x="445.6" y="234.3" font-size="6.9" fill="#222" text-anchor="start">Bacteria</text>
<rect x="433.60" y="238.30" width="9.80" height="3.60" fill="#8aadd1" stroke="#555" stroke-width="0.8"/>
<text x="445.6" y="242.0" font-size="6.9" fill="#222" text-anchor="start">Fungi</text>
<rect x="433.60" y="246.00" width="9.80" height="3.60" fill="#ec8479" stroke="#555" stroke-width="0.8"/>
<text x="445.6" y="249.70000000000002" font-size="6.9" fill="#222" text-anchor="start">Virus</text>
<rect x="433.60" y="253.70" width="9.80" height="3.60" fill="#f5c389" stroke="#555" stroke-width="0.8"/>
<text x="445.6" y="257.4" font-size="6.9" fill="#222" text-anchor="start">Ensemble</text>
<rect x="427.6" y="319.6" width="44" height="44.7" fill="#fff" stroke="#d4d4d4" stroke-width="0.8"/>
<text x="450.1" y="327.0" font-size="6.9" fill="#111" text-anchor="middle" font-weight="bold">Disease</text>
<rect x="428.80" y="338.00" width="13.20" height="2.40" fill="#a09400"/>
<rect x="428.80" y="352.20" width="13.20" height="2.40" fill="#d7313a"/>
<text x="443.6" y="337.9" font-size="7.0" fill="#222" text-anchor="start">Dental</text>
<text x="443.6" y="346.7" font-size="7.0" fill="#222" text-anchor="start">Disease</text>
<text x="443.6" y="353.8" font-size="7.0" fill="#222" text-anchor="start">Systemic</text>
<text x="443.6" y="361.9" font-size="7.0" fill="#222" text-anchor="start">Disease</text>
<text x="500.90" y="289.70" font-size="10.0" fill="#111" textLength="84.01" lengthAdjust="spacingAndGlyphs" transform="rotate(-90 500.90 289.70)">Feature importance</text>
<text x="500.90" y="412.70" font-size="10.0" fill="#111" textLength="84.81" lengthAdjust="spacingAndGlyphs" transform="rotate(-90 500.90 412.70)">Feature importance</text>
<rect x="523.80" y="203.00" width="24.60" height="101.20" fill="#bc75a0"/>
<rect x="556.30" y="210.90" width="24.60" height="93.30" fill="#bc75a0"/>
<rect x="588.90" y="212.80" width="24.60" height="91.40" fill="#bc75a0"/>
<rect x="621.50" y="232.10" width="24.60" height="72.10" fill="#bc75a0"/>
<rect x="654.10" y="244.90" width="24.60" height="59.30" fill="#bc75a0"/>
<line x1="520.0" y1="198.2" x2="520.0" y2="305.2" stroke="#111" stroke-width="1.8"/>
<line x1="519.1" y1="304.4" x2="683.6" y2="304.4" stroke="#111" stroke-width="1.8"/>
<line x1="517.9" y1="304.2" x2="519.2" y2="304.2" stroke="#111" stroke-width="0.9"/>
<text x="517.3" y="306.09999999999997" font-size="5.3" fill="#2a2a2a" text-anchor="end" letter-spacing="0.25">0.000</text>
<line x1="517.9" y1="285.0" x2="519.2" y2="285.0" stroke="#111" stroke-width="0.9"/>
<text x="517.3" y="286.9" font-size="5.3" fill="#2a2a2a" text-anchor="end" letter-spacing="0.25">0.002</text>
<line x1="517.9" y1="265.8" x2="519.2" y2="265.8" stroke="#111" stroke-width="0.9"/>
<text x="517.3" y="267.7" font-size="5.3" fill="#2a2a2a" text-anchor="end" letter-spacing="0.25">0.004</text>
<line x1="517.9" y1="246.6" x2="519.2" y2="246.6" stroke="#111" stroke-width="0.9"/>
<text x="517.3" y="248.5" font-size="5.3" fill="#2a2a2a" text-anchor="end" letter-spacing="0.25">0.006</text>
<line x1="517.9" y1="227.39999999999998" x2="519.2" y2="227.39999999999998" stroke="#111" stroke-width="0.9"/>
<text x="517.3" y="229.29999999999998" font-size="5.3" fill="#2a2a2a" text-anchor="end" letter-spacing="0.25">0.008</text>
<line x1="517.9" y1="208.2" x2="519.2" y2="208.2" stroke="#111" stroke-width="0.9"/>
<text x="517.3" y="210.1" font-size="5.3" fill="#2a2a2a" text-anchor="end" letter-spacing="0.25">0.010</text>
<line x1="536.0999999999999" y1="305.2" x2="536.0999999999999" y2="306.59999999999997" stroke="#111" stroke-width="0.9"/>
<text x="536.0999999999999" y="311.0" font-size="5.2" fill="#111" text-anchor="middle" letter-spacing="0.1">VC_769_2</text>
<line x1="568.5999999999999" y1="305.2" x2="568.5999999999999" y2="306.59999999999997" stroke="#111" stroke-width="0.9"/>
<text x="568.5999999999999" y="311.0" font-size="5.2" fill="#111" text-anchor="middle" letter-spacing="0.1">VC_769_1</text>
<line x1="601.1999999999999" y1="305.2" x2="601.1999999999999" y2="306.59999999999997" stroke="#111" stroke-width="0.9"/>
<text x="601.1999999999999" y="311.0" font-size="5.2" fill="#111" text-anchor="middle" letter-spacing="0.1">VC_1742_1</text>
<line x1="633.8" y1="305.2" x2="633.8" y2="306.59999999999997" stroke="#111" stroke-width="0.9"/>
<text x="633.8" y="311.0" font-size="5.2" fill="#111" text-anchor="middle" letter-spacing="0.1">VC_769_3</text>
<line x1="666.4" y1="305.2" x2="666.4" y2="306.59999999999997" stroke="#111" stroke-width="0.9"/>
<text x="666.4" y="311.0" font-size="5.2" fill="#111" text-anchor="middle" letter-spacing="0.1">VC_769_0</text>
<rect x="523.80" y="377.10" width="24.60" height="56.20" fill="#bc75a0"/>
<rect x="556.30" y="391.20" width="24.60" height="42.10" fill="#bc75a0"/>
<rect x="588.90" y="393.10" width="24.60" height="40.20" fill="#bc75a0"/>
<rect x="621.50" y="405.90" width="24.60" height="27.40" fill="#bc75a0"/>
<rect x="654.10" y="406.20" width="24.60" height="27.10" fill="#bc75a0"/>
<line x1="520.0" y1="327.0" x2="520.0" y2="434.3" stroke="#111" stroke-width="1.8"/>
<line x1="519.1" y1="433.5" x2="683.6" y2="433.5" stroke="#111" stroke-width="1.8"/>
<line x1="517.9" y1="433.3" x2="519.2" y2="433.3" stroke="#111" stroke-width="0.9"/>
<text x="517.3" y="435.2" font-size="5.3" fill="#2a2a2a" text-anchor="end" letter-spacing="0.25">0.000</text>
<line x1="517.9" y1="414.1" x2="519.2" y2="414.1" stroke="#111" stroke-width="0.9"/>
<text x="517.3" y="416.0" font-size="5.3" fill="#2a2a2a" text-anchor="end" letter-spacing="0.25">0.002</text>
<line x1="517.9" y1="394.90000000000003" x2="519.2" y2="394.90000000000003" stroke="#111" stroke-width="0.9"/>
<text x="517.3" y="396.8" font-size="5.3" fill="#2a2a2a" text-anchor="end" letter-spacing="0.25">0.004</text>
<line x1="517.9" y1="375.7" x2="519.2" y2="375.7" stroke="#111" stroke-width="0.9"/>
<text x="517.3" y="377.59999999999997" font-size="5.3" fill="#2a2a2a" text-anchor="end" letter-spacing="0.25">0.006</text>
<line x1="517.9" y1="356.5" x2="519.2" y2="356.5" stroke="#111" stroke-width="0.9"/>
<text x="517.3" y="358.4" font-size="5.3" fill="#2a2a2a" text-anchor="end" letter-spacing="0.25">0.008</text>
<line x1="517.9" y1="337.3" x2="519.2" y2="337.3" stroke="#111" stroke-width="0.9"/>
<text x="517.3" y="339.2" font-size="5.3" fill="#2a2a2a" text-anchor="end" letter-spacing="0.25">0.010</text>
<line x1="536.0999999999999" y1="434.3" x2="536.0999999999999" y2="435.7" stroke="#111" stroke-width="0.9"/>
<text x="536.0999999999999" y="440.1" font-size="5.2" fill="#111" text-anchor="middle" letter-spacing="0.1">VC_1293_0</text>
<line x1="568.5999999999999" y1="434.3" x2="568.5999999999999" y2="435.7" stroke="#111" stroke-width="0.9"/>
<text x="568.5999999999999" y="440.1" font-size="5.2" fill="#111" text-anchor="middle" letter-spacing="0.1">VC_1377_2</text>
<line x1="601.1999999999999" y1="434.3" x2="601.1999999999999" y2="435.7" stroke="#111" stroke-width="0.9"/>
<text x="601.1999999999999" y="440.1" font-size="5.2" fill="#111" text-anchor="middle" letter-spacing="0.1">VC_1377_0</text>
<line x1="633.8" y1="434.3" x2="633.8" y2="435.7" stroke="#111" stroke-width="0.9"/>
<text x="633.8" y="440.1" font-size="5.2" fill="#111" text-anchor="middle" letter-spacing="0.1">VC_1477_3</text>
<line x1="666.4" y1="434.3" x2="666.4" y2="435.7" stroke="#111" stroke-width="0.9"/>
<text x="666.4" y="440.1" font-size="5.2" fill="#111" text-anchor="middle" letter-spacing="0.1">VC_1661_0</text>
</svg></body></html>
